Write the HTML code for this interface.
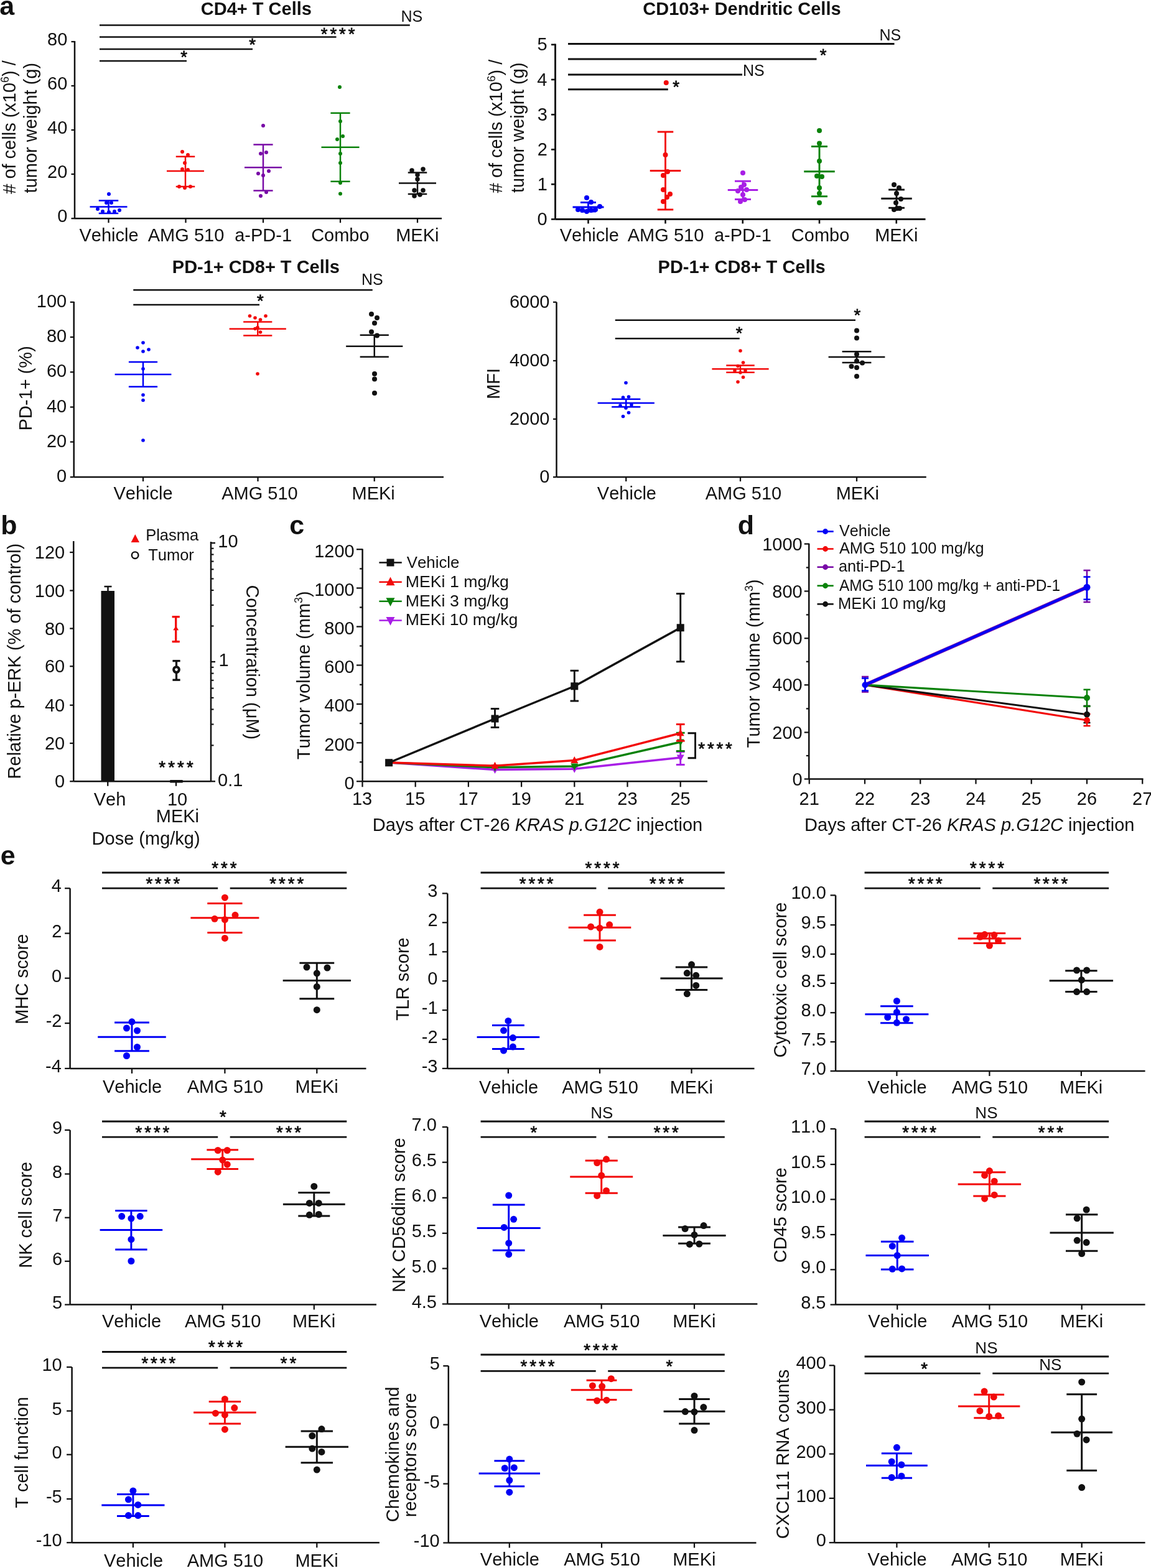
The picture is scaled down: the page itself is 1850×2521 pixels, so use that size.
<!DOCTYPE html>
<html><head><meta charset="utf-8"><title>Figure</title>
<style>
html,body{margin:0;padding:0;background:#fff;}
svg{display:block;}
svg text{font-family:'Liberation Sans', Arial, Helvetica, sans-serif;font-kerning:none;}
</style></head>
<body>
<svg width="1850" height="2521" viewBox="0 0 1850 2521">
<rect width="1850" height="2521" fill="#fff"/>
<text x="-0.76" y="24" font-size="43" font-weight="bold" fill="#111111">a</text>
<text x="1.17" y="858.5" font-size="43" font-weight="bold" fill="#111111">b</text>
<text x="465.32" y="858.9" font-size="43" font-weight="bold" fill="#111111">c</text>
<text x="1185.74" y="858.75" font-size="43" font-weight="bold" fill="#111111">d</text>
<text x="0.82" y="1389.5" font-size="43" font-weight="bold" fill="#111111">e</text>
<text x="322.81" y="24" font-size="29" font-weight="bold" fill="#111111">CD4+ T Cells</text>
<line x1="120" y1="66" x2="120" y2="351.25" stroke="#111111" stroke-width="2.5" stroke-linecap="butt"/>
<line x1="114.5" y1="67" x2="120" y2="67" stroke="#111111" stroke-width="2.25" stroke-linecap="butt"/>
<text x="76.08" y="73.2" font-size="29" fill="#111111">80</text>
<line x1="114.5" y1="138" x2="120" y2="138" stroke="#111111" stroke-width="2.25" stroke-linecap="butt"/>
<text x="76.08" y="144.2" font-size="29" fill="#111111">60</text>
<line x1="114.5" y1="209" x2="120" y2="209" stroke="#111111" stroke-width="2.25" stroke-linecap="butt"/>
<text x="76.08" y="215.2" font-size="29" fill="#111111">40</text>
<line x1="114.5" y1="280" x2="120" y2="280" stroke="#111111" stroke-width="2.25" stroke-linecap="butt"/>
<text x="76.08" y="286.2" font-size="29" fill="#111111">20</text>
<line x1="114.5" y1="351.25" x2="120" y2="351.25" stroke="#111111" stroke-width="2.25" stroke-linecap="butt"/>
<text x="92.2" y="357.45" font-size="29" fill="#111111">0</text>
<line x1="120" y1="351.25" x2="710" y2="351.25" stroke="#111111" stroke-width="2.5" stroke-linecap="butt"/>
<line x1="174.5" y1="351.25" x2="174.5" y2="358.25" stroke="#111111" stroke-width="2.25" stroke-linecap="butt"/>
<text x="127.52" y="387.8" font-size="29" fill="#111111">Vehicle</text>
<line x1="298.5" y1="351.25" x2="298.5" y2="358.25" stroke="#111111" stroke-width="2.25" stroke-linecap="butt"/>
<text x="237.79" y="387.8" font-size="29" fill="#111111">AMG 510</text>
<line x1="423" y1="351.25" x2="423" y2="358.25" stroke="#111111" stroke-width="2.25" stroke-linecap="butt"/>
<text x="377.16" y="387.8" font-size="29" fill="#111111">a-PD-1</text>
<line x1="547" y1="351.25" x2="547" y2="358.25" stroke="#111111" stroke-width="2.25" stroke-linecap="butt"/>
<text x="500.13" y="387.8" font-size="29" fill="#111111">Combo</text>
<line x1="671" y1="351.25" x2="671" y2="358.25" stroke="#111111" stroke-width="2.25" stroke-linecap="butt"/>
<text x="636.14" y="387.8" font-size="29" fill="#111111">MEKi</text>
<text transform="translate(25.2,204.4) rotate(-90)" x="-107.41" y="0" fill="#111111"><tspan font-size="29"># of cells (x10</tspan><tspan font-size="17.98" dy="-11.02">6</tspan><tspan font-size="29" dy="11.02">) /</tspan></text>
<text transform="translate(59,206.3) rotate(-90)" x="-104.08" y="0" fill="#111111"><tspan font-size="29">tumor weight (g)</tspan></text>
<line x1="160" y1="40.5" x2="658.75" y2="40.5" stroke="#111111" stroke-width="2.6" stroke-linecap="butt"/>
<text x="644.45" y="34.8" font-size="25" fill="#111111">NS</text>
<line x1="160" y1="59.5" x2="540.5" y2="59.5" stroke="#111111" stroke-width="2.6" stroke-linecap="butt"/>
<text x="515.86" y="63.82" font-size="27.5" letter-spacing="3.92" fill="#111111" stroke="#111111" stroke-width="0.8">****</text>
<line x1="160" y1="79" x2="406" y2="79" stroke="#111111" stroke-width="2.6" stroke-linecap="butt"/>
<text x="400.14" y="81.42" font-size="27.5" letter-spacing="3.2" fill="#111111" stroke="#111111" stroke-width="0.8">*</text>
<line x1="160" y1="98" x2="300" y2="98" stroke="#111111" stroke-width="2.6" stroke-linecap="butt"/>
<text x="290.14" y="101.32" font-size="27.5" letter-spacing="3.2" fill="#111111" stroke="#111111" stroke-width="0.8">*</text>
<line x1="144.5" y1="332.5" x2="204.5" y2="332.5" stroke="#0000f5" stroke-width="2.5" stroke-linecap="butt"/>
<line x1="174.5" y1="322.5" x2="174.5" y2="343" stroke="#0000f5" stroke-width="2.5" stroke-linecap="butt"/>
<line x1="158.75" y1="322.5" x2="190.25" y2="322.5" stroke="#0000f5" stroke-width="2.5" stroke-linecap="butt"/>
<line x1="158.75" y1="343" x2="190.25" y2="343" stroke="#0000f5" stroke-width="2.5" stroke-linecap="butt"/>
<circle cx="175" cy="312" r="3" fill="#0000f5"/>
<circle cx="171" cy="326" r="3" fill="#0000f5"/>
<circle cx="179" cy="326" r="3" fill="#0000f5"/>
<circle cx="157" cy="336" r="3" fill="#0000f5"/>
<circle cx="165" cy="340" r="3" fill="#0000f5"/>
<circle cx="175" cy="341" r="3" fill="#0000f5"/>
<circle cx="184" cy="340" r="3" fill="#0000f5"/>
<circle cx="192" cy="338" r="3" fill="#0000f5"/>
<line x1="268" y1="275" x2="328" y2="275" stroke="#f20a0a" stroke-width="2.5" stroke-linecap="butt"/>
<line x1="298" y1="251.75" x2="298" y2="300" stroke="#f20a0a" stroke-width="2.5" stroke-linecap="butt"/>
<line x1="282.75" y1="251.75" x2="313.25" y2="251.75" stroke="#f20a0a" stroke-width="2.5" stroke-linecap="butt"/>
<line x1="282.75" y1="300" x2="313.25" y2="300" stroke="#f20a0a" stroke-width="2.5" stroke-linecap="butt"/>
<circle cx="293" cy="244" r="3" fill="#f20a0a"/>
<circle cx="302" cy="249" r="3" fill="#f20a0a"/>
<circle cx="297" cy="262" r="3" fill="#f20a0a"/>
<circle cx="293" cy="272" r="3" fill="#f20a0a"/>
<circle cx="302" cy="273" r="3" fill="#f20a0a"/>
<circle cx="288" cy="300" r="3" fill="#f20a0a"/>
<circle cx="297" cy="302" r="3" fill="#f20a0a"/>
<circle cx="306" cy="300" r="3" fill="#f20a0a"/>
<line x1="393" y1="269.25" x2="453" y2="269.25" stroke="#780aa6" stroke-width="2.5" stroke-linecap="butt"/>
<line x1="423" y1="232.5" x2="423" y2="306.5" stroke="#780aa6" stroke-width="2.5" stroke-linecap="butt"/>
<line x1="407.4" y1="232.5" x2="438.6" y2="232.5" stroke="#780aa6" stroke-width="2.5" stroke-linecap="butt"/>
<line x1="407.4" y1="306.5" x2="438.6" y2="306.5" stroke="#780aa6" stroke-width="2.5" stroke-linecap="butt"/>
<circle cx="423" cy="202" r="3" fill="#780aa6"/>
<circle cx="419" cy="247" r="3" fill="#780aa6"/>
<circle cx="428" cy="245" r="3" fill="#780aa6"/>
<circle cx="415" cy="279" r="3" fill="#780aa6"/>
<circle cx="432" cy="275" r="3" fill="#780aa6"/>
<circle cx="423" cy="282" r="3" fill="#780aa6"/>
<circle cx="419" cy="315" r="3" fill="#780aa6"/>
<circle cx="428" cy="309" r="3" fill="#780aa6"/>
<line x1="516.5" y1="236.75" x2="577.5" y2="236.75" stroke="#0a820a" stroke-width="2.5" stroke-linecap="butt"/>
<line x1="547" y1="181.75" x2="547" y2="291.75" stroke="#0a820a" stroke-width="2.5" stroke-linecap="butt"/>
<line x1="531.4" y1="181.75" x2="562.6" y2="181.75" stroke="#0a820a" stroke-width="2.5" stroke-linecap="butt"/>
<line x1="531.4" y1="291.75" x2="562.6" y2="291.75" stroke="#0a820a" stroke-width="2.5" stroke-linecap="butt"/>
<circle cx="546" cy="140" r="3" fill="#0a820a"/>
<circle cx="547" cy="195" r="3" fill="#0a820a"/>
<circle cx="551" cy="219" r="3" fill="#0a820a"/>
<circle cx="542" cy="224" r="3" fill="#0a820a"/>
<circle cx="547" cy="247" r="3" fill="#0a820a"/>
<circle cx="547" cy="262" r="3" fill="#0a820a"/>
<circle cx="547" cy="294" r="3" fill="#0a820a"/>
<circle cx="547" cy="311.5" r="3" fill="#0a820a"/>
<line x1="641" y1="294.5" x2="701" y2="294.5" stroke="#111111" stroke-width="2.5" stroke-linecap="butt"/>
<line x1="671" y1="277.5" x2="671" y2="312" stroke="#111111" stroke-width="2.5" stroke-linecap="butt"/>
<line x1="655.75" y1="277.5" x2="686.25" y2="277.5" stroke="#111111" stroke-width="2.5" stroke-linecap="butt"/>
<line x1="655.75" y1="312" x2="686.25" y2="312" stroke="#111111" stroke-width="2.5" stroke-linecap="butt"/>
<circle cx="662" cy="274" r="3.75" fill="#111111"/>
<circle cx="680" cy="272" r="3.75" fill="#111111"/>
<circle cx="671" cy="281" r="3.75" fill="#111111"/>
<circle cx="671" cy="288" r="3.75" fill="#111111"/>
<circle cx="666" cy="306" r="3.75" fill="#111111"/>
<circle cx="680" cy="306" r="3.75" fill="#111111"/>
<circle cx="666" cy="315" r="3.75" fill="#111111"/>
<circle cx="675" cy="313" r="3.75" fill="#111111"/>
<text x="1033.31" y="24" font-size="29" font-weight="bold" fill="#111111">CD103+ Dendritic Cells</text>
<line x1="892.5" y1="70.5" x2="892.5" y2="352.5" stroke="#111111" stroke-width="2.9" stroke-linecap="butt"/>
<line x1="886" y1="71.75" x2="892.5" y2="71.75" stroke="#111111" stroke-width="2.61" stroke-linecap="butt"/>
<text x="863.59" y="81.25" font-size="29" fill="#111111">5</text>
<line x1="886" y1="128" x2="892.5" y2="128" stroke="#111111" stroke-width="2.61" stroke-linecap="butt"/>
<text x="863.22" y="137.5" font-size="29" fill="#111111">4</text>
<line x1="886" y1="184.25" x2="892.5" y2="184.25" stroke="#111111" stroke-width="2.61" stroke-linecap="butt"/>
<text x="863.65" y="193.75" font-size="29" fill="#111111">3</text>
<line x1="886" y1="240.4" x2="892.5" y2="240.4" stroke="#111111" stroke-width="2.61" stroke-linecap="butt"/>
<text x="863.83" y="249.9" font-size="29" fill="#111111">2</text>
<line x1="886" y1="296.25" x2="892.5" y2="296.25" stroke="#111111" stroke-width="2.61" stroke-linecap="butt"/>
<text x="863.79" y="305.75" font-size="29" fill="#111111">1</text>
<line x1="886" y1="352.5" x2="892.5" y2="352.5" stroke="#111111" stroke-width="2.61" stroke-linecap="butt"/>
<text x="863.5" y="362" font-size="29" fill="#111111">0</text>
<line x1="892.5" y1="352.5" x2="1487.5" y2="352.5" stroke="#111111" stroke-width="2.9" stroke-linecap="butt"/>
<line x1="945.5" y1="352.5" x2="945.5" y2="359.5" stroke="#111111" stroke-width="2.61" stroke-linecap="butt"/>
<text x="899.72" y="387.5" font-size="29" fill="#111111">Vehicle</text>
<line x1="1069.5" y1="352.5" x2="1069.5" y2="359.5" stroke="#111111" stroke-width="2.61" stroke-linecap="butt"/>
<text x="1008.79" y="387.5" font-size="29" fill="#111111">AMG 510</text>
<line x1="1193.75" y1="352.5" x2="1193.75" y2="359.5" stroke="#111111" stroke-width="2.61" stroke-linecap="butt"/>
<text x="1147.91" y="387.5" font-size="29" fill="#111111">a-PD-1</text>
<line x1="1317" y1="352.5" x2="1317" y2="359.5" stroke="#111111" stroke-width="2.61" stroke-linecap="butt"/>
<text x="1271.83" y="387.5" font-size="29" fill="#111111">Combo</text>
<line x1="1440.75" y1="352.5" x2="1440.75" y2="359.5" stroke="#111111" stroke-width="2.61" stroke-linecap="butt"/>
<text x="1406.19" y="387.5" font-size="29" fill="#111111">MEKi</text>
<text transform="translate(807.2,202.9) rotate(-90)" x="-107.41" y="0" fill="#111111"><tspan font-size="29"># of cells (x10</tspan><tspan font-size="17.98" dy="-11.02">6</tspan><tspan font-size="29" dy="11.02">) /</tspan></text>
<text transform="translate(842.3,205.9) rotate(-90)" x="-104.08" y="0" fill="#111111"><tspan font-size="29">tumor weight (g)</tspan></text>
<line x1="913" y1="70.5" x2="1437.5" y2="70.5" stroke="#111111" stroke-width="2.9" stroke-linecap="butt"/>
<text x="1413.45" y="65" font-size="25" fill="#111111">NS</text>
<line x1="913" y1="95" x2="1312.5" y2="95" stroke="#111111" stroke-width="2.9" stroke-linecap="butt"/>
<text x="1317.64" y="97.82" font-size="27.5" letter-spacing="3.2" fill="#111111" stroke="#111111" stroke-width="0.8">*</text>
<line x1="913" y1="120" x2="1193" y2="120" stroke="#111111" stroke-width="2.9" stroke-linecap="butt"/>
<text x="1193.95" y="122" font-size="25" fill="#111111">NS</text>
<line x1="913" y1="143.75" x2="1073.75" y2="143.75" stroke="#111111" stroke-width="2.9" stroke-linecap="butt"/>
<text x="1081.34" y="148.62" font-size="27.5" letter-spacing="3.2" fill="#111111" stroke="#111111" stroke-width="0.8">*</text>
<line x1="920.5" y1="333" x2="970.5" y2="333" stroke="#0000f5" stroke-width="2.9" stroke-linecap="butt"/>
<line x1="945.5" y1="325.5" x2="945.5" y2="340" stroke="#0000f5" stroke-width="2.9" stroke-linecap="butt"/>
<line x1="933" y1="325.5" x2="958" y2="325.5" stroke="#0000f5" stroke-width="2.9" stroke-linecap="butt"/>
<line x1="933" y1="340" x2="958" y2="340" stroke="#0000f5" stroke-width="2.9" stroke-linecap="butt"/>
<circle cx="943" cy="318" r="4" fill="#0000f5"/>
<circle cx="950" cy="325" r="4" fill="#0000f5"/>
<circle cx="964" cy="332" r="4" fill="#0000f5"/>
<circle cx="929" cy="337" r="4" fill="#0000f5"/>
<circle cx="936" cy="338" r="4" fill="#0000f5"/>
<circle cx="943" cy="340" r="4" fill="#0000f5"/>
<circle cx="950" cy="338" r="4" fill="#0000f5"/>
<circle cx="957" cy="337" r="4" fill="#0000f5"/>
<line x1="1044.75" y1="274.5" x2="1094.25" y2="274.5" stroke="#f20a0a" stroke-width="2.9" stroke-linecap="butt"/>
<line x1="1069.5" y1="212" x2="1069.5" y2="337" stroke="#f20a0a" stroke-width="2.9" stroke-linecap="butt"/>
<line x1="1056.75" y1="212" x2="1082.25" y2="212" stroke="#f20a0a" stroke-width="2.9" stroke-linecap="butt"/>
<line x1="1056.75" y1="337" x2="1082.25" y2="337" stroke="#f20a0a" stroke-width="2.9" stroke-linecap="butt"/>
<circle cx="1070.75" cy="133" r="4" fill="#f20a0a"/>
<circle cx="1069.5" cy="249" r="4" fill="#f20a0a"/>
<circle cx="1073" cy="276" r="4" fill="#f20a0a"/>
<circle cx="1066" cy="282" r="4" fill="#f20a0a"/>
<circle cx="1066" cy="305" r="4" fill="#f20a0a"/>
<circle cx="1077" cy="312" r="4" fill="#f20a0a"/>
<circle cx="1072" cy="317" r="4" fill="#f20a0a"/>
<circle cx="1066" cy="324" r="4" fill="#f20a0a"/>
<line x1="1169.75" y1="305.5" x2="1218.25" y2="305.5" stroke="#a81ee6" stroke-width="2.9" stroke-linecap="butt"/>
<line x1="1194" y1="291.25" x2="1194" y2="320.5" stroke="#a81ee6" stroke-width="2.9" stroke-linecap="butt"/>
<line x1="1181" y1="291.25" x2="1207" y2="291.25" stroke="#a81ee6" stroke-width="2.9" stroke-linecap="butt"/>
<line x1="1181" y1="320.5" x2="1207" y2="320.5" stroke="#a81ee6" stroke-width="2.9" stroke-linecap="butt"/>
<circle cx="1194" cy="278" r="4" fill="#a81ee6"/>
<circle cx="1196" cy="297" r="4" fill="#a81ee6"/>
<circle cx="1191" cy="301" r="4" fill="#a81ee6"/>
<circle cx="1186" cy="307" r="4" fill="#a81ee6"/>
<circle cx="1200" cy="305" r="4" fill="#a81ee6"/>
<circle cx="1194" cy="313" r="4" fill="#a81ee6"/>
<circle cx="1197" cy="321" r="4" fill="#a81ee6"/>
<circle cx="1190" cy="324" r="4" fill="#a81ee6"/>
<line x1="1292.25" y1="275.75" x2="1341.75" y2="275.75" stroke="#0a820a" stroke-width="2.9" stroke-linecap="butt"/>
<line x1="1317" y1="235.5" x2="1317" y2="315.75" stroke="#0a820a" stroke-width="2.9" stroke-linecap="butt"/>
<line x1="1304" y1="235.5" x2="1330" y2="235.5" stroke="#0a820a" stroke-width="2.9" stroke-linecap="butt"/>
<line x1="1304" y1="315.75" x2="1330" y2="315.75" stroke="#0a820a" stroke-width="2.9" stroke-linecap="butt"/>
<circle cx="1317" cy="210" r="4" fill="#0a820a"/>
<circle cx="1317" cy="230.5" r="4" fill="#0a820a"/>
<circle cx="1317" cy="259" r="4" fill="#0a820a"/>
<circle cx="1313" cy="283" r="4" fill="#0a820a"/>
<circle cx="1321" cy="284" r="4" fill="#0a820a"/>
<circle cx="1317" cy="302" r="4" fill="#0a820a"/>
<circle cx="1317" cy="311" r="4" fill="#0a820a"/>
<circle cx="1317" cy="326" r="4" fill="#0a820a"/>
<line x1="1416.25" y1="319.25" x2="1465.75" y2="319.25" stroke="#111111" stroke-width="2.9" stroke-linecap="butt"/>
<line x1="1441" y1="305" x2="1441" y2="334.25" stroke="#111111" stroke-width="2.9" stroke-linecap="butt"/>
<line x1="1428.1" y1="305" x2="1453.9" y2="305" stroke="#111111" stroke-width="2.9" stroke-linecap="butt"/>
<line x1="1428.1" y1="334.25" x2="1453.9" y2="334.25" stroke="#111111" stroke-width="2.9" stroke-linecap="butt"/>
<circle cx="1437" cy="297" r="4" fill="#111111"/>
<circle cx="1445" cy="302" r="4" fill="#111111"/>
<circle cx="1441" cy="311" r="4" fill="#111111"/>
<circle cx="1448" cy="320" r="4" fill="#111111"/>
<circle cx="1440" cy="326" r="4" fill="#111111"/>
<circle cx="1442" cy="335" r="4" fill="#111111"/>
<circle cx="1437" cy="337" r="4" fill="#111111"/>
<circle cx="1446" cy="335" r="4" fill="#111111"/>
<text x="276.81" y="439.25" font-size="29" font-weight="bold" fill="#111111">PD-1+ CD8+ T Cells</text>
<line x1="118.75" y1="485" x2="118.75" y2="767" stroke="#111111" stroke-width="2.5" stroke-linecap="butt"/>
<line x1="112.75" y1="485.75" x2="118.75" y2="485.75" stroke="#111111" stroke-width="2.25" stroke-linecap="butt"/>
<text x="58.75" y="493.75" font-size="29" fill="#111111">100</text>
<line x1="112.75" y1="542" x2="118.75" y2="542" stroke="#111111" stroke-width="2.25" stroke-linecap="butt"/>
<text x="74.88" y="550" font-size="29" fill="#111111">80</text>
<line x1="112.75" y1="598.25" x2="118.75" y2="598.25" stroke="#111111" stroke-width="2.25" stroke-linecap="butt"/>
<text x="74.88" y="606.25" font-size="29" fill="#111111">60</text>
<line x1="112.75" y1="654.5" x2="118.75" y2="654.5" stroke="#111111" stroke-width="2.25" stroke-linecap="butt"/>
<text x="74.88" y="662.5" font-size="29" fill="#111111">40</text>
<line x1="112.75" y1="710.5" x2="118.75" y2="710.5" stroke="#111111" stroke-width="2.25" stroke-linecap="butt"/>
<text x="74.88" y="718.5" font-size="29" fill="#111111">20</text>
<line x1="112.75" y1="767" x2="118.75" y2="767" stroke="#111111" stroke-width="2.25" stroke-linecap="butt"/>
<text x="91" y="775" font-size="29" fill="#111111">0</text>
<line x1="118.75" y1="767" x2="713" y2="767" stroke="#111111" stroke-width="2.5" stroke-linecap="butt"/>
<line x1="230" y1="767" x2="230" y2="774" stroke="#111111" stroke-width="2.25" stroke-linecap="butt"/>
<text x="182.52" y="803.25" font-size="29" fill="#111111">Vehicle</text>
<line x1="414.5" y1="767" x2="414.5" y2="774" stroke="#111111" stroke-width="2.25" stroke-linecap="butt"/>
<text x="356.19" y="803.25" font-size="29" fill="#111111">AMG 510</text>
<line x1="601.75" y1="767" x2="601.75" y2="774" stroke="#111111" stroke-width="2.25" stroke-linecap="butt"/>
<text x="565.49" y="803.25" font-size="29" fill="#111111">MEKi</text>
<text transform="translate(51,624.01) rotate(-90)" x="-68.37" y="0" fill="#111111"><tspan font-size="29">PD-1+ (%)</tspan></text>
<line x1="214.25" y1="466.25" x2="598.75" y2="466.25" stroke="#111111" stroke-width="2.5" stroke-linecap="butt"/>
<text x="580.95" y="458" font-size="25" fill="#111111">NS</text>
<line x1="214.25" y1="490" x2="417" y2="490" stroke="#111111" stroke-width="2.5" stroke-linecap="butt"/>
<text x="413.04" y="493.12" font-size="27.5" letter-spacing="3.2" fill="#111111" stroke="#111111" stroke-width="0.8">*</text>
<line x1="184.6" y1="602" x2="275.4" y2="602" stroke="#0000f5" stroke-width="2.5" stroke-linecap="butt"/>
<line x1="230" y1="582" x2="230" y2="621.75" stroke="#0000f5" stroke-width="2.5" stroke-linecap="butt"/>
<line x1="206.9" y1="582" x2="253.1" y2="582" stroke="#0000f5" stroke-width="2.5" stroke-linecap="butt"/>
<line x1="206.9" y1="621.75" x2="253.1" y2="621.75" stroke="#0000f5" stroke-width="2.5" stroke-linecap="butt"/>
<circle cx="230" cy="551" r="2.8" fill="#0000f5"/>
<circle cx="221" cy="559" r="2.8" fill="#0000f5"/>
<circle cx="239" cy="562" r="2.8" fill="#0000f5"/>
<circle cx="230" cy="565" r="2.8" fill="#0000f5"/>
<circle cx="230" cy="593" r="2.8" fill="#0000f5"/>
<circle cx="230" cy="635" r="2.8" fill="#0000f5"/>
<circle cx="230" cy="643.5" r="2.8" fill="#0000f5"/>
<circle cx="230" cy="708" r="2.8" fill="#0000f5"/>
<line x1="368.65" y1="528.75" x2="459.85" y2="528.75" stroke="#f20a0a" stroke-width="2.5" stroke-linecap="butt"/>
<line x1="414.25" y1="517.5" x2="414.25" y2="539.5" stroke="#f20a0a" stroke-width="2.5" stroke-linecap="butt"/>
<line x1="391.15" y1="517.5" x2="437.35" y2="517.5" stroke="#f20a0a" stroke-width="2.5" stroke-linecap="butt"/>
<line x1="391.15" y1="539.5" x2="437.35" y2="539.5" stroke="#f20a0a" stroke-width="2.5" stroke-linecap="butt"/>
<circle cx="401.5" cy="508" r="2.8" fill="#f20a0a"/>
<circle cx="410" cy="511" r="2.8" fill="#f20a0a"/>
<circle cx="418.5" cy="514" r="2.8" fill="#f20a0a"/>
<circle cx="427" cy="508" r="2.8" fill="#f20a0a"/>
<circle cx="414" cy="526.5" r="2.8" fill="#f20a0a"/>
<circle cx="410" cy="528.5" r="2.8" fill="#f20a0a"/>
<circle cx="418.5" cy="534" r="2.8" fill="#f20a0a"/>
<circle cx="414" cy="601" r="2.8" fill="#f20a0a"/>
<line x1="556.15" y1="556.75" x2="647.35" y2="556.75" stroke="#111111" stroke-width="2.5" stroke-linecap="butt"/>
<line x1="601.75" y1="538.75" x2="601.75" y2="573.75" stroke="#111111" stroke-width="2.5" stroke-linecap="butt"/>
<line x1="578.65" y1="538.75" x2="624.85" y2="538.75" stroke="#111111" stroke-width="2.5" stroke-linecap="butt"/>
<line x1="578.65" y1="573.75" x2="624.85" y2="573.75" stroke="#111111" stroke-width="2.5" stroke-linecap="butt"/>
<circle cx="597" cy="505" r="4" fill="#111111"/>
<circle cx="606" cy="511" r="4" fill="#111111"/>
<circle cx="602" cy="519.5" r="4" fill="#111111"/>
<circle cx="597" cy="533.5" r="4" fill="#111111"/>
<circle cx="606" cy="539.5" r="4" fill="#111111"/>
<circle cx="602" cy="601" r="4" fill="#111111"/>
<circle cx="602" cy="609.5" r="4" fill="#111111"/>
<circle cx="602" cy="632" r="4" fill="#111111"/>
<text x="1057.56" y="439.25" font-size="29" font-weight="bold" fill="#111111">PD-1+ CD8+ T Cells</text>
<line x1="894.5" y1="485.75" x2="894.5" y2="767" stroke="#111111" stroke-width="2.5" stroke-linecap="butt"/>
<line x1="889" y1="485.75" x2="894.5" y2="485.75" stroke="#111111" stroke-width="2.25" stroke-linecap="butt"/>
<text x="818.92" y="494.75" font-size="29" fill="#111111">6000</text>
<line x1="889" y1="580" x2="894.5" y2="580" stroke="#111111" stroke-width="2.25" stroke-linecap="butt"/>
<text x="818.92" y="589" font-size="29" fill="#111111">4000</text>
<line x1="889" y1="673.75" x2="894.5" y2="673.75" stroke="#111111" stroke-width="2.25" stroke-linecap="butt"/>
<text x="818.92" y="682.75" font-size="29" fill="#111111">2000</text>
<line x1="889" y1="767" x2="894.5" y2="767" stroke="#111111" stroke-width="2.25" stroke-linecap="butt"/>
<text x="867.3" y="776" font-size="29" fill="#111111">0</text>
<line x1="894.5" y1="767" x2="1488.75" y2="767" stroke="#111111" stroke-width="2.5" stroke-linecap="butt"/>
<line x1="1006.25" y1="767" x2="1006.25" y2="774" stroke="#111111" stroke-width="2.25" stroke-linecap="butt"/>
<text x="959.87" y="803" font-size="29" fill="#111111">Vehicle</text>
<line x1="1190" y1="767" x2="1190" y2="774" stroke="#111111" stroke-width="2.25" stroke-linecap="butt"/>
<text x="1133.69" y="803" font-size="29" fill="#111111">AMG 510</text>
<line x1="1377" y1="767" x2="1377" y2="774" stroke="#111111" stroke-width="2.25" stroke-linecap="butt"/>
<text x="1343.64" y="803" font-size="29" fill="#111111">MEKi</text>
<text transform="translate(802.5,617) rotate(-90)" x="-24.82" y="0" fill="#111111"><tspan font-size="29">MFI</tspan></text>
<line x1="988.75" y1="514.75" x2="1375" y2="514.75" stroke="#111111" stroke-width="2.5" stroke-linecap="butt"/>
<text x="1372.54" y="515.82" font-size="27.5" letter-spacing="3.2" fill="#111111" stroke="#111111" stroke-width="0.8">*</text>
<line x1="988.75" y1="544.25" x2="1188.75" y2="544.25" stroke="#111111" stroke-width="2.5" stroke-linecap="butt"/>
<text x="1182.74" y="544.92" font-size="27.5" letter-spacing="3.2" fill="#111111" stroke="#111111" stroke-width="0.8">*</text>
<line x1="960.65" y1="648" x2="1051.85" y2="648" stroke="#0000f5" stroke-width="2.5" stroke-linecap="butt"/>
<line x1="1006.25" y1="641.75" x2="1006.25" y2="654.25" stroke="#0000f5" stroke-width="2.5" stroke-linecap="butt"/>
<line x1="983.15" y1="641.75" x2="1029.35" y2="641.75" stroke="#0000f5" stroke-width="2.5" stroke-linecap="butt"/>
<line x1="983.15" y1="654.25" x2="1029.35" y2="654.25" stroke="#0000f5" stroke-width="2.5" stroke-linecap="butt"/>
<circle cx="1006" cy="615.5" r="2.8" fill="#0000f5"/>
<circle cx="1001.5" cy="639" r="2.8" fill="#0000f5"/>
<circle cx="1010.5" cy="638" r="2.8" fill="#0000f5"/>
<circle cx="997" cy="652" r="2.8" fill="#0000f5"/>
<circle cx="1006" cy="656" r="2.8" fill="#0000f5"/>
<circle cx="1015" cy="651" r="2.8" fill="#0000f5"/>
<circle cx="1010.5" cy="663.5" r="2.8" fill="#0000f5"/>
<circle cx="1001.5" cy="669.5" r="2.8" fill="#0000f5"/>
<line x1="1144.4" y1="593.25" x2="1235.6" y2="593.25" stroke="#f20a0a" stroke-width="2.5" stroke-linecap="butt"/>
<line x1="1190" y1="587.5" x2="1190" y2="598.75" stroke="#f20a0a" stroke-width="2.5" stroke-linecap="butt"/>
<line x1="1167.25" y1="587.5" x2="1212.75" y2="587.5" stroke="#f20a0a" stroke-width="2.5" stroke-linecap="butt"/>
<line x1="1167.25" y1="598.75" x2="1212.75" y2="598.75" stroke="#f20a0a" stroke-width="2.5" stroke-linecap="butt"/>
<circle cx="1190" cy="564" r="2.8" fill="#f20a0a"/>
<circle cx="1194.5" cy="583" r="2.8" fill="#f20a0a"/>
<circle cx="1186" cy="588.5" r="2.8" fill="#f20a0a"/>
<circle cx="1181" cy="596" r="2.8" fill="#f20a0a"/>
<circle cx="1190" cy="599" r="2.8" fill="#f20a0a"/>
<circle cx="1198" cy="596" r="2.8" fill="#f20a0a"/>
<circle cx="1194.5" cy="606.5" r="2.8" fill="#f20a0a"/>
<circle cx="1186" cy="614" r="2.8" fill="#f20a0a"/>
<line x1="1331.6" y1="574" x2="1422.4" y2="574" stroke="#111111" stroke-width="2.5" stroke-linecap="butt"/>
<line x1="1377" y1="565.25" x2="1377" y2="583" stroke="#111111" stroke-width="2.5" stroke-linecap="butt"/>
<line x1="1353.6" y1="565.25" x2="1400.4" y2="565.25" stroke="#111111" stroke-width="2.5" stroke-linecap="butt"/>
<line x1="1353.6" y1="583" x2="1400.4" y2="583" stroke="#111111" stroke-width="2.5" stroke-linecap="butt"/>
<circle cx="1377" cy="531.5" r="4" fill="#111111"/>
<circle cx="1377" cy="543.5" r="4" fill="#111111"/>
<circle cx="1377" cy="569.5" r="4" fill="#111111"/>
<circle cx="1377" cy="580.5" r="4" fill="#111111"/>
<circle cx="1386" cy="583.5" r="4" fill="#111111"/>
<circle cx="1368.5" cy="589" r="4" fill="#111111"/>
<circle cx="1377" cy="591" r="4" fill="#111111"/>
<circle cx="1377" cy="605" r="4" fill="#111111"/>
<line x1="118.25" y1="870" x2="118.25" y2="1256.25" stroke="#111111" stroke-width="2.5" stroke-linecap="butt"/>
<line x1="112.25" y1="888" x2="118.25" y2="888" stroke="#111111" stroke-width="2.25" stroke-linecap="butt"/>
<text x="55.75" y="898" font-size="29" fill="#111111">120</text>
<line x1="112.25" y1="949.5" x2="118.25" y2="949.5" stroke="#111111" stroke-width="2.25" stroke-linecap="butt"/>
<text x="55.75" y="959.5" font-size="29" fill="#111111">100</text>
<line x1="112.25" y1="1010.5" x2="118.25" y2="1010.5" stroke="#111111" stroke-width="2.25" stroke-linecap="butt"/>
<text x="71.88" y="1020.5" font-size="29" fill="#111111">80</text>
<line x1="112.25" y1="1071.25" x2="118.25" y2="1071.25" stroke="#111111" stroke-width="2.25" stroke-linecap="butt"/>
<text x="71.88" y="1081.25" font-size="29" fill="#111111">60</text>
<line x1="112.25" y1="1133.75" x2="118.25" y2="1133.75" stroke="#111111" stroke-width="2.25" stroke-linecap="butt"/>
<text x="71.88" y="1143.75" font-size="29" fill="#111111">40</text>
<line x1="112.25" y1="1195" x2="118.25" y2="1195" stroke="#111111" stroke-width="2.25" stroke-linecap="butt"/>
<text x="71.88" y="1205" font-size="29" fill="#111111">20</text>
<line x1="112.25" y1="1256.25" x2="118.25" y2="1256.25" stroke="#111111" stroke-width="2.25" stroke-linecap="butt"/>
<text x="88" y="1266.25" font-size="29" fill="#111111">0</text>
<line x1="118.25" y1="1256.25" x2="339" y2="1256.25" stroke="#111111" stroke-width="2.5" stroke-linecap="butt"/>
<line x1="173.25" y1="1256.25" x2="173.25" y2="1263.75" stroke="#111111" stroke-width="2.3" stroke-linecap="butt"/>
<line x1="283" y1="1256.25" x2="283" y2="1263.75" stroke="#111111" stroke-width="2.3" stroke-linecap="butt"/>
<text x="150.68" y="1294.5" font-size="29" fill="#111111">Veh</text>
<text x="268.93" y="1294.5" font-size="29" fill="#111111">10</text>
<text x="250.74" y="1322" font-size="29" fill="#111111">MEKi</text>
<text x="147.62" y="1357.5" font-size="29" fill="#111111">Dose (mg/kg)</text>
<line x1="339" y1="871" x2="339" y2="1256.25" stroke="#111111" stroke-width="2.5" stroke-linecap="butt"/>
<line x1="339" y1="873" x2="346" y2="873" stroke="#111111" stroke-width="2.3" stroke-linecap="butt"/>
<line x1="339" y1="1064" x2="346" y2="1064" stroke="#111111" stroke-width="2.3" stroke-linecap="butt"/>
<line x1="339" y1="1256.25" x2="346" y2="1256.25" stroke="#111111" stroke-width="2.3" stroke-linecap="butt"/>
<line x1="339" y1="1006.5" x2="343.5" y2="1006.5" stroke="#111111" stroke-width="2.1" stroke-linecap="butt"/>
<line x1="339" y1="1198.38" x2="343.5" y2="1198.38" stroke="#111111" stroke-width="2.1" stroke-linecap="butt"/>
<line x1="339" y1="972.87" x2="343.5" y2="972.87" stroke="#111111" stroke-width="2.1" stroke-linecap="butt"/>
<line x1="339" y1="1164.52" x2="343.5" y2="1164.52" stroke="#111111" stroke-width="2.1" stroke-linecap="butt"/>
<line x1="339" y1="949.01" x2="343.5" y2="949.01" stroke="#111111" stroke-width="2.1" stroke-linecap="butt"/>
<line x1="339" y1="1140.5" x2="343.5" y2="1140.5" stroke="#111111" stroke-width="2.1" stroke-linecap="butt"/>
<line x1="339" y1="930.5" x2="343.5" y2="930.5" stroke="#111111" stroke-width="2.1" stroke-linecap="butt"/>
<line x1="339" y1="1121.87" x2="343.5" y2="1121.87" stroke="#111111" stroke-width="2.1" stroke-linecap="butt"/>
<line x1="339" y1="915.37" x2="343.5" y2="915.37" stroke="#111111" stroke-width="2.1" stroke-linecap="butt"/>
<line x1="339" y1="1106.65" x2="343.5" y2="1106.65" stroke="#111111" stroke-width="2.1" stroke-linecap="butt"/>
<line x1="339" y1="902.59" x2="343.5" y2="902.59" stroke="#111111" stroke-width="2.1" stroke-linecap="butt"/>
<line x1="339" y1="1093.78" x2="343.5" y2="1093.78" stroke="#111111" stroke-width="2.1" stroke-linecap="butt"/>
<line x1="339" y1="891.51" x2="343.5" y2="891.51" stroke="#111111" stroke-width="2.1" stroke-linecap="butt"/>
<line x1="339" y1="1082.63" x2="343.5" y2="1082.63" stroke="#111111" stroke-width="2.1" stroke-linecap="butt"/>
<line x1="339" y1="881.74" x2="343.5" y2="881.74" stroke="#111111" stroke-width="2.1" stroke-linecap="butt"/>
<line x1="339" y1="1072.8" x2="343.5" y2="1072.8" stroke="#111111" stroke-width="2.1" stroke-linecap="butt"/>
<text x="350.29" y="880" font-size="29" fill="#111111">10</text>
<text x="351.54" y="1071.25" font-size="29" fill="#111111">1</text>
<text x="350.12" y="1263.75" font-size="29" fill="#111111">0.1</text>
<text transform="translate(33,1062.75) rotate(-90)" x="-189.66" y="0" fill="#111111"><tspan font-size="29">Relative p-ERK (% of control)</tspan></text>
<text transform="translate(395.5,1064.6) rotate(90)" x="-124.23" y="0" fill="#111111"><tspan font-size="29">Concentration (</tspan><tspan font-size="29">μ</tspan><tspan font-size="29">M)</tspan></text>
<rect x="162.5" y="950" width="21.5" height="306.25" fill="#111111"/>
<line x1="173.5" y1="943" x2="173.5" y2="950" stroke="#111111" stroke-width="2.5" stroke-linecap="butt"/>
<line x1="167.5" y1="943" x2="179.5" y2="943" stroke="#111111" stroke-width="2.5" stroke-linecap="butt"/>
<rect x="273.3" y="1254" width="20.4" height="4.5" fill="#111111"/>
<polygon points="217.3,858.9 210.6,871.9 224,871.9" fill="#f20a0a"/>
<text x="234.16" y="869.25" font-size="25.5" fill="#111111">Plasma</text>
<circle cx="217.1" cy="892.7" r="5.3" fill="none" stroke="#111111" stroke-width="2.4"/>
<text x="238.18" y="900.5" font-size="25.5" fill="#111111">Tumor</text>
<line x1="282.7" y1="991.7" x2="282.7" y2="1031.6" stroke="#f20a0a" stroke-width="3.3" stroke-linecap="butt"/>
<line x1="276.6" y1="991.7" x2="288.8" y2="991.7" stroke="#f20a0a" stroke-width="3.3" stroke-linecap="butt"/>
<line x1="276.6" y1="1031.6" x2="288.8" y2="1031.6" stroke="#f20a0a" stroke-width="3.3" stroke-linecap="butt"/>
<polygon points="282.7,1006.29 278.2,1013.31 287.2,1013.31" fill="#f20a0a"/>
<line x1="283.5" y1="1062.6" x2="283.5" y2="1093.2" stroke="#111111" stroke-width="3.3" stroke-linecap="butt"/>
<line x1="277.4" y1="1062.6" x2="289.6" y2="1062.6" stroke="#111111" stroke-width="3.3" stroke-linecap="butt"/>
<line x1="277.4" y1="1093.2" x2="289.6" y2="1093.2" stroke="#111111" stroke-width="3.3" stroke-linecap="butt"/>
<circle cx="283.5" cy="1076.6" r="4.35" fill="#fff" stroke="#111111" stroke-width="4.1"/>
<text x="255.26" y="1242.62" font-size="27.5" letter-spacing="4.19" fill="#111111" stroke="#111111" stroke-width="0.8">****</text>
<line x1="582.6" y1="882.5" x2="582.6" y2="1256.25" stroke="#111111" stroke-width="2.5" stroke-linecap="butt"/>
<line x1="573" y1="883.25" x2="582.6" y2="883.25" stroke="#111111" stroke-width="2.25" stroke-linecap="butt"/>
<text x="505.22" y="895.55" font-size="29" fill="#111111">1200</text>
<line x1="573" y1="945.5" x2="582.6" y2="945.5" stroke="#111111" stroke-width="2.25" stroke-linecap="butt"/>
<text x="505.22" y="957.8" font-size="29" fill="#111111">1000</text>
<line x1="573" y1="1007.5" x2="582.6" y2="1007.5" stroke="#111111" stroke-width="2.25" stroke-linecap="butt"/>
<text x="521.35" y="1019.8" font-size="29" fill="#111111">800</text>
<line x1="573" y1="1069.5" x2="582.6" y2="1069.5" stroke="#111111" stroke-width="2.25" stroke-linecap="butt"/>
<text x="521.35" y="1081.8" font-size="29" fill="#111111">600</text>
<line x1="573" y1="1132" x2="582.6" y2="1132" stroke="#111111" stroke-width="2.25" stroke-linecap="butt"/>
<text x="521.35" y="1144.3" font-size="29" fill="#111111">400</text>
<line x1="573" y1="1194.25" x2="582.6" y2="1194.25" stroke="#111111" stroke-width="2.25" stroke-linecap="butt"/>
<text x="521.35" y="1206.55" font-size="29" fill="#111111">200</text>
<line x1="573" y1="1256.25" x2="582.6" y2="1256.25" stroke="#111111" stroke-width="2.25" stroke-linecap="butt"/>
<text x="553.6" y="1268.55" font-size="29" fill="#111111">0</text>
<line x1="578.1" y1="914.4" x2="582.6" y2="914.4" stroke="#111111" stroke-width="2.25" stroke-linecap="butt"/>
<line x1="578.1" y1="976.5" x2="582.6" y2="976.5" stroke="#111111" stroke-width="2.25" stroke-linecap="butt"/>
<line x1="578.1" y1="1038.5" x2="582.6" y2="1038.5" stroke="#111111" stroke-width="2.25" stroke-linecap="butt"/>
<line x1="578.1" y1="1100.8" x2="582.6" y2="1100.8" stroke="#111111" stroke-width="2.25" stroke-linecap="butt"/>
<line x1="578.1" y1="1163.1" x2="582.6" y2="1163.1" stroke="#111111" stroke-width="2.25" stroke-linecap="butt"/>
<line x1="578.1" y1="1225.2" x2="582.6" y2="1225.2" stroke="#111111" stroke-width="2.25" stroke-linecap="butt"/>
<line x1="582.6" y1="1256.25" x2="1137" y2="1256.25" stroke="#111111" stroke-width="2.5" stroke-linecap="butt"/>
<line x1="582.5" y1="1256.25" x2="582.5" y2="1265.25" stroke="#111111" stroke-width="2.25" stroke-linecap="butt"/>
<text x="565.9" y="1293.75" font-size="29" fill="#111111">13</text>
<line x1="667.7" y1="1256.25" x2="667.7" y2="1265.25" stroke="#111111" stroke-width="2.25" stroke-linecap="butt"/>
<text x="651.08" y="1293.75" font-size="29" fill="#111111">15</text>
<line x1="752.9" y1="1256.25" x2="752.9" y2="1265.25" stroke="#111111" stroke-width="2.25" stroke-linecap="butt"/>
<text x="736.4" y="1293.75" font-size="29" fill="#111111">17</text>
<line x1="838.1" y1="1256.25" x2="838.1" y2="1265.25" stroke="#111111" stroke-width="2.25" stroke-linecap="butt"/>
<text x="821.55" y="1293.75" font-size="29" fill="#111111">19</text>
<line x1="923.3" y1="1256.25" x2="923.3" y2="1265.25" stroke="#111111" stroke-width="2.25" stroke-linecap="butt"/>
<text x="907.15" y="1293.75" font-size="29" fill="#111111">21</text>
<line x1="1008.5" y1="1256.25" x2="1008.5" y2="1265.25" stroke="#111111" stroke-width="2.25" stroke-linecap="butt"/>
<text x="992.28" y="1293.75" font-size="29" fill="#111111">23</text>
<line x1="1093.7" y1="1256.25" x2="1093.7" y2="1265.25" stroke="#111111" stroke-width="2.25" stroke-linecap="butt"/>
<text x="1077.45" y="1293.75" font-size="29" fill="#111111">25</text>
<text x="598.87" y="1335.5" fill="#111111"><tspan font-size="29">Days after CT-26 </tspan><tspan font-size="29" font-style="italic">KRAS p.G12C</tspan><tspan font-size="29"> injection</tspan></text>
<text transform="translate(497.5,1086.3) rotate(-90)" x="-134.93" y="0" fill="#111111"><tspan font-size="29">Tumor volume (mm</tspan><tspan font-size="17.98" dy="-11.02">3</tspan><tspan font-size="29" dy="11.02">)</tspan></text>
<line x1="609.4" y1="904.5" x2="645.8" y2="904.5" stroke="#111111" stroke-width="2.6" stroke-linecap="butt"/>
<rect x="621.5" y="898.5" width="12" height="12" fill="#111111"/>
<text x="653.79" y="912.9" font-size="25.5" fill="#111111" textLength="84.66" lengthAdjust="spacingAndGlyphs">Vehicle</text>
<line x1="609.4" y1="935.75" x2="645.8" y2="935.75" stroke="#f20a0a" stroke-width="2.6" stroke-linecap="butt"/>
<polygon points="627.5,927.6 620.5,941.18 634.5,941.18" fill="#f20a0a"/>
<text x="651.71" y="943.75" font-size="25.5" fill="#111111" textLength="166.26" lengthAdjust="spacingAndGlyphs">MEKi 1 mg/kg</text>
<line x1="609.4" y1="966.75" x2="645.8" y2="966.75" stroke="#0a820a" stroke-width="2.6" stroke-linecap="butt"/>
<polygon points="627.5,974.9 620.5,961.32 634.5,961.32" fill="#0a820a"/>
<text x="651.71" y="974.5" font-size="25.5" fill="#111111" textLength="166.26" lengthAdjust="spacingAndGlyphs">MEKi 3 mg/kg</text>
<line x1="609.4" y1="997.5" x2="645.8" y2="997.5" stroke="#a81ee6" stroke-width="2.6" stroke-linecap="butt"/>
<polygon points="627.5,1005.65 620.5,992.07 634.5,992.07" fill="#a81ee6"/>
<text x="651.71" y="1005" font-size="25.5" fill="#111111" textLength="180.6" lengthAdjust="spacingAndGlyphs">MEKi 10 mg/kg</text>
<polyline points="625.1,1226 795.5,1237.5 923.3,1236.25 1093.7,1218" fill="none" stroke="#a81ee6" stroke-width="3.5" stroke-linejoin="round"/>
<line x1="1093.7" y1="1208.75" x2="1093.7" y2="1229.5" stroke="#a81ee6" stroke-width="2.9" stroke-linecap="butt"/>
<line x1="1086.8" y1="1208.75" x2="1100.6" y2="1208.75" stroke="#a81ee6" stroke-width="2.9" stroke-linecap="butt"/>
<line x1="1086.8" y1="1229.5" x2="1100.6" y2="1229.5" stroke="#a81ee6" stroke-width="2.9" stroke-linecap="butt"/>
<polygon points="795.5,1244.12 789.5,1233.08 801.5,1233.08" fill="#a81ee6"/>
<polygon points="923.3,1242.87 917.3,1231.83 929.3,1231.83" fill="#a81ee6"/>
<polygon points="1093.7,1224.62 1087.7,1213.58 1099.7,1213.58" fill="#a81ee6"/>
<polyline points="625.1,1226 795.5,1233.75 923.3,1232 1093.7,1193" fill="none" stroke="#0a820a" stroke-width="3.5" stroke-linejoin="round"/>
<line x1="1093.7" y1="1178.25" x2="1093.7" y2="1207.5" stroke="#0a820a" stroke-width="2.9" stroke-linecap="butt"/>
<line x1="1086.8" y1="1178.25" x2="1100.6" y2="1178.25" stroke="#0a820a" stroke-width="2.9" stroke-linecap="butt"/>
<line x1="1086.8" y1="1207.5" x2="1100.6" y2="1207.5" stroke="#0a820a" stroke-width="2.9" stroke-linecap="butt"/>
<polygon points="795.5,1240.37 789.5,1229.33 801.5,1229.33" fill="#0a820a"/>
<polygon points="923.3,1238.62 917.3,1227.58 929.3,1227.58" fill="#0a820a"/>
<polygon points="1093.7,1199.62 1087.7,1188.58 1099.7,1188.58" fill="#0a820a"/>
<polyline points="625.1,1226 795.5,1231.25 923.3,1222.5 1093.7,1178.75" fill="none" stroke="#f20a0a" stroke-width="3.5" stroke-linejoin="round"/>
<line x1="1093.7" y1="1164.5" x2="1093.7" y2="1191.25" stroke="#f20a0a" stroke-width="2.9" stroke-linecap="butt"/>
<line x1="1086.8" y1="1164.5" x2="1100.6" y2="1164.5" stroke="#f20a0a" stroke-width="2.9" stroke-linecap="butt"/>
<line x1="1086.8" y1="1191.25" x2="1100.6" y2="1191.25" stroke="#f20a0a" stroke-width="2.9" stroke-linecap="butt"/>
<polygon points="795.5,1224.63 789.5,1235.67 801.5,1235.67" fill="#f20a0a"/>
<polygon points="923.3,1215.88 917.3,1226.92 929.3,1226.92" fill="#f20a0a"/>
<polygon points="1093.7,1172.13 1087.7,1183.17 1099.7,1183.17" fill="#f20a0a"/>
<polyline points="625.1,1226.25 795.5,1155.5 923.3,1103.25 1093.7,1009.25" fill="none" stroke="#111111" stroke-width="3.5" stroke-linejoin="round"/>
<line x1="795.5" y1="1139.5" x2="795.5" y2="1169.5" stroke="#111111" stroke-width="2.9" stroke-linecap="butt"/>
<line x1="788.75" y1="1139.5" x2="802.25" y2="1139.5" stroke="#111111" stroke-width="2.9" stroke-linecap="butt"/>
<line x1="788.75" y1="1169.5" x2="802.25" y2="1169.5" stroke="#111111" stroke-width="2.9" stroke-linecap="butt"/>
<line x1="923.3" y1="1078.25" x2="923.3" y2="1127" stroke="#111111" stroke-width="2.9" stroke-linecap="butt"/>
<line x1="916.55" y1="1078.25" x2="930.05" y2="1078.25" stroke="#111111" stroke-width="2.9" stroke-linecap="butt"/>
<line x1="916.55" y1="1127" x2="930.05" y2="1127" stroke="#111111" stroke-width="2.9" stroke-linecap="butt"/>
<line x1="1093.7" y1="954.5" x2="1093.7" y2="1063.75" stroke="#111111" stroke-width="2.9" stroke-linecap="butt"/>
<line x1="1086.95" y1="954.5" x2="1100.45" y2="954.5" stroke="#111111" stroke-width="2.9" stroke-linecap="butt"/>
<line x1="1086.95" y1="1063.75" x2="1100.45" y2="1063.75" stroke="#111111" stroke-width="2.9" stroke-linecap="butt"/>
<rect x="619.1" y="1220.25" width="12" height="12" fill="#111111"/>
<rect x="789.5" y="1149.5" width="12" height="12" fill="#111111"/>
<rect x="917.3" y="1097.25" width="12" height="12" fill="#111111"/>
<rect x="1087.7" y="1003.25" width="12" height="12" fill="#111111"/>
<polyline points="1105.5,1178.75 1117.5,1178.75 1117.5,1218.75 1105.5,1218.75" fill="none" stroke="#111111" stroke-width="2.9"/>
<text x="1122.36" y="1213.42" font-size="27.5" letter-spacing="3.82" fill="#111111" stroke="#111111" stroke-width="0.8">****</text>
<line x1="1300.25" y1="873.75" x2="1300.25" y2="1252.5" stroke="#111111" stroke-width="2.5" stroke-linecap="butt"/>
<line x1="1292.75" y1="874.5" x2="1300.25" y2="874.5" stroke="#111111" stroke-width="2.25" stroke-linecap="butt"/>
<text x="1225.22" y="884.5" font-size="29" fill="#111111">1000</text>
<line x1="1292.75" y1="950.5" x2="1300.25" y2="950.5" stroke="#111111" stroke-width="2.25" stroke-linecap="butt"/>
<text x="1241.35" y="960.5" font-size="29" fill="#111111">800</text>
<line x1="1292.75" y1="1026.25" x2="1300.25" y2="1026.25" stroke="#111111" stroke-width="2.25" stroke-linecap="butt"/>
<text x="1241.35" y="1036.25" font-size="29" fill="#111111">600</text>
<line x1="1292.75" y1="1101.25" x2="1300.25" y2="1101.25" stroke="#111111" stroke-width="2.25" stroke-linecap="butt"/>
<text x="1241.35" y="1111.25" font-size="29" fill="#111111">400</text>
<line x1="1292.75" y1="1177.5" x2="1300.25" y2="1177.5" stroke="#111111" stroke-width="2.25" stroke-linecap="butt"/>
<text x="1241.35" y="1187.5" font-size="29" fill="#111111">200</text>
<line x1="1292.75" y1="1252.5" x2="1300.25" y2="1252.5" stroke="#111111" stroke-width="2.25" stroke-linecap="butt"/>
<text x="1273.6" y="1262.5" font-size="29" fill="#111111">0</text>
<line x1="1295.75" y1="912.5" x2="1300.25" y2="912.5" stroke="#111111" stroke-width="2.25" stroke-linecap="butt"/>
<line x1="1295.75" y1="988.4" x2="1300.25" y2="988.4" stroke="#111111" stroke-width="2.25" stroke-linecap="butt"/>
<line x1="1295.75" y1="1063.75" x2="1300.25" y2="1063.75" stroke="#111111" stroke-width="2.25" stroke-linecap="butt"/>
<line x1="1295.75" y1="1139.4" x2="1300.25" y2="1139.4" stroke="#111111" stroke-width="2.25" stroke-linecap="butt"/>
<line x1="1295.75" y1="1215" x2="1300.25" y2="1215" stroke="#111111" stroke-width="2.25" stroke-linecap="butt"/>
<line x1="1300.25" y1="1252.5" x2="1837.5" y2="1252.5" stroke="#111111" stroke-width="2.5" stroke-linecap="butt"/>
<line x1="1300.75" y1="1252.5" x2="1300.75" y2="1260.5" stroke="#111111" stroke-width="2.25" stroke-linecap="butt"/>
<text x="1284.6" y="1294" font-size="29" fill="#111111">21</text>
<line x1="1390" y1="1252.5" x2="1390" y2="1260.5" stroke="#111111" stroke-width="2.25" stroke-linecap="butt"/>
<text x="1373.87" y="1294" font-size="29" fill="#111111">22</text>
<line x1="1479.25" y1="1252.5" x2="1479.25" y2="1260.5" stroke="#111111" stroke-width="2.25" stroke-linecap="butt"/>
<text x="1463.03" y="1294" font-size="29" fill="#111111">23</text>
<line x1="1568.5" y1="1252.5" x2="1568.5" y2="1260.5" stroke="#111111" stroke-width="2.25" stroke-linecap="butt"/>
<text x="1552.07" y="1294" font-size="29" fill="#111111">24</text>
<line x1="1657.75" y1="1252.5" x2="1657.75" y2="1260.5" stroke="#111111" stroke-width="2.25" stroke-linecap="butt"/>
<text x="1641.5" y="1294" font-size="29" fill="#111111">25</text>
<line x1="1747" y1="1252.5" x2="1747" y2="1260.5" stroke="#111111" stroke-width="2.25" stroke-linecap="butt"/>
<text x="1730.78" y="1294" font-size="29" fill="#111111">26</text>
<line x1="1836.25" y1="1252.5" x2="1836.25" y2="1260.5" stroke="#111111" stroke-width="2.25" stroke-linecap="butt"/>
<text x="1820.12" y="1294" font-size="29" fill="#111111">27</text>
<text x="1293.12" y="1336" fill="#111111"><tspan font-size="29">Days after CT-26 </tspan><tspan font-size="29" font-style="italic">KRAS p.G12C</tspan><tspan font-size="29"> injection</tspan></text>
<text transform="translate(1220.7,1067.5) rotate(-90)" x="-134.93" y="0" fill="#111111"><tspan font-size="29">Tumor volume (mm</tspan><tspan font-size="17.98" dy="-11.02">3</tspan><tspan font-size="29" dy="11.02">)</tspan></text>
<line x1="1313.5" y1="854.5" x2="1339.7" y2="854.5" stroke="#0000f5" stroke-width="2.6" stroke-linecap="butt"/>
<circle cx="1326.6" cy="854.5" r="4.4" fill="#0000f5"/>
<text x="1348.89" y="862.4" font-size="25.3" fill="#111111" textLength="82.63" lengthAdjust="spacingAndGlyphs">Vehicle</text>
<line x1="1313.5" y1="882.5" x2="1339.7" y2="882.5" stroke="#f20a0a" stroke-width="2.6" stroke-linecap="butt"/>
<circle cx="1326.6" cy="882.5" r="4.4" fill="#f20a0a"/>
<text x="1348.95" y="890" font-size="25.3" fill="#111111" textLength="232.68" lengthAdjust="spacingAndGlyphs">AMG 510 100 mg/kg</text>
<line x1="1313.5" y1="911.75" x2="1339.7" y2="911.75" stroke="#780aa6" stroke-width="2.6" stroke-linecap="butt"/>
<circle cx="1326.6" cy="911.75" r="4.4" fill="#780aa6"/>
<text x="1347.93" y="918.75" font-size="25.3" fill="#111111" textLength="106.55" lengthAdjust="spacingAndGlyphs">anti-PD-1</text>
<line x1="1313.5" y1="941.75" x2="1339.7" y2="941.75" stroke="#0a820a" stroke-width="2.6" stroke-linecap="butt"/>
<circle cx="1326.6" cy="941.75" r="4.4" fill="#0a820a"/>
<text x="1348.95" y="949.5" font-size="25.3" fill="#111111" textLength="355.14" lengthAdjust="spacingAndGlyphs">AMG 510 100 mg/kg + anti-PD-1</text>
<line x1="1313.5" y1="971.25" x2="1339.7" y2="971.25" stroke="#111111" stroke-width="2.6" stroke-linecap="butt"/>
<circle cx="1326.6" cy="971.25" r="4.4" fill="#111111"/>
<text x="1346.9" y="978.75" font-size="25.3" fill="#111111" textLength="173.55" lengthAdjust="spacingAndGlyphs">MEKi 10 mg/kg</text>
<line x1="1390.5" y1="1101.2" x2="1747" y2="1158" stroke="#f20a0a" stroke-width="3.2" stroke-linecap="butt"/>
<line x1="1390.5" y1="1101.2" x2="1747" y2="1148.75" stroke="#111111" stroke-width="3.2" stroke-linecap="butt"/>
<line x1="1390.5" y1="1101.2" x2="1747" y2="1122" stroke="#0a820a" stroke-width="3.2" stroke-linecap="butt"/>
<line x1="1390.5" y1="1101.2" x2="1747" y2="944.25" stroke="#780aa6" stroke-width="6" stroke-linecap="butt"/>
<line x1="1390.5" y1="1101.2" x2="1747" y2="944.25" stroke="#0000f5" stroke-width="4" stroke-linecap="butt"/>
<line x1="1390.5" y1="1088" x2="1390.5" y2="1112.5" stroke="#780aa6" stroke-width="2.6" stroke-linecap="butt"/>
<line x1="1385" y1="1088" x2="1396" y2="1088" stroke="#780aa6" stroke-width="2.6" stroke-linecap="butt"/>
<line x1="1385" y1="1112.5" x2="1396" y2="1112.5" stroke="#780aa6" stroke-width="2.6" stroke-linecap="butt"/>
<line x1="1390.5" y1="1090.5" x2="1390.5" y2="1110.5" stroke="#0000f5" stroke-width="2.6" stroke-linecap="butt"/>
<line x1="1385" y1="1090.5" x2="1396" y2="1090.5" stroke="#0000f5" stroke-width="2.6" stroke-linecap="butt"/>
<line x1="1385" y1="1110.5" x2="1396" y2="1110.5" stroke="#0000f5" stroke-width="2.6" stroke-linecap="butt"/>
<circle cx="1390.5" cy="1101.2" r="5" fill="#0000f5"/>
<line x1="1747" y1="917" x2="1747" y2="968" stroke="#780aa6" stroke-width="2.6" stroke-linecap="butt"/>
<line x1="1741.5" y1="917" x2="1752.5" y2="917" stroke="#780aa6" stroke-width="2.6" stroke-linecap="butt"/>
<line x1="1741.5" y1="968" x2="1752.5" y2="968" stroke="#780aa6" stroke-width="2.6" stroke-linecap="butt"/>
<line x1="1747" y1="927.5" x2="1747" y2="963.75" stroke="#0000f5" stroke-width="2.6" stroke-linecap="butt"/>
<line x1="1741.5" y1="927.5" x2="1752.5" y2="927.5" stroke="#0000f5" stroke-width="2.6" stroke-linecap="butt"/>
<line x1="1741.5" y1="963.75" x2="1752.5" y2="963.75" stroke="#0000f5" stroke-width="2.6" stroke-linecap="butt"/>
<circle cx="1747" cy="944.25" r="5.5" fill="#0000f5"/>
<line x1="1747" y1="1135" x2="1747" y2="1162" stroke="#111111" stroke-width="2.6" stroke-linecap="butt"/>
<line x1="1741.5" y1="1135" x2="1752.5" y2="1135" stroke="#111111" stroke-width="2.6" stroke-linecap="butt"/>
<line x1="1741.5" y1="1162" x2="1752.5" y2="1162" stroke="#111111" stroke-width="2.6" stroke-linecap="butt"/>
<line x1="1747" y1="1148" x2="1747" y2="1167" stroke="#f20a0a" stroke-width="2.6" stroke-linecap="butt"/>
<line x1="1741.5" y1="1148" x2="1752.5" y2="1148" stroke="#f20a0a" stroke-width="2.6" stroke-linecap="butt"/>
<line x1="1741.5" y1="1167" x2="1752.5" y2="1167" stroke="#f20a0a" stroke-width="2.6" stroke-linecap="butt"/>
<line x1="1747" y1="1108.75" x2="1747" y2="1135.75" stroke="#0a820a" stroke-width="2.6" stroke-linecap="butt"/>
<line x1="1741.5" y1="1108.75" x2="1752.5" y2="1108.75" stroke="#0a820a" stroke-width="2.6" stroke-linecap="butt"/>
<line x1="1741.5" y1="1135.75" x2="1752.5" y2="1135.75" stroke="#0a820a" stroke-width="2.6" stroke-linecap="butt"/>
<circle cx="1747" cy="1148.75" r="5" fill="#111111"/>
<circle cx="1747" cy="1158" r="5" fill="#f20a0a"/>
<circle cx="1747" cy="1122" r="5" fill="#0a820a"/>
<line x1="112.6" y1="1428.2" x2="112.6" y2="1717.9" stroke="#111111" stroke-width="2.5" stroke-linecap="butt"/>
<line x1="104.1" y1="1428.2" x2="112.6" y2="1428.2" stroke="#111111" stroke-width="2.25" stroke-linecap="butt"/>
<text x="82.72" y="1434.2" font-size="29" fill="#111111">4</text>
<line x1="104.1" y1="1500.6" x2="112.6" y2="1500.6" stroke="#111111" stroke-width="2.25" stroke-linecap="butt"/>
<text x="83.33" y="1506.6" font-size="29" fill="#111111">2</text>
<line x1="104.1" y1="1572.7" x2="112.6" y2="1572.7" stroke="#111111" stroke-width="2.25" stroke-linecap="butt"/>
<text x="83" y="1578.7" font-size="29" fill="#111111">0</text>
<line x1="104.1" y1="1645.1" x2="112.6" y2="1645.1" stroke="#111111" stroke-width="2.25" stroke-linecap="butt"/>
<text x="73.67" y="1651.1" font-size="29" fill="#111111">-2</text>
<line x1="104.1" y1="1717.9" x2="112.6" y2="1717.9" stroke="#111111" stroke-width="2.25" stroke-linecap="butt"/>
<text x="73.06" y="1723.9" font-size="29" fill="#111111">-4</text>
<line x1="112.6" y1="1717.9" x2="588.5" y2="1717.9" stroke="#111111" stroke-width="2.5" stroke-linecap="butt"/>
<line x1="212" y1="1717.9" x2="212" y2="1725.9" stroke="#111111" stroke-width="2.25" stroke-linecap="butt"/>
<text x="165.02" y="1756.6" font-size="29" fill="#111111">Vehicle</text>
<line x1="361.4" y1="1717.9" x2="361.4" y2="1725.9" stroke="#111111" stroke-width="2.25" stroke-linecap="butt"/>
<text x="300.69" y="1756.6" font-size="29" fill="#111111">AMG 510</text>
<line x1="509.3" y1="1717.9" x2="509.3" y2="1725.9" stroke="#111111" stroke-width="2.25" stroke-linecap="butt"/>
<text x="474.44" y="1756.6" font-size="29" fill="#111111">MEKi</text>
<text transform="translate(45,1573.6) rotate(-90)" x="-73.05" y="0" fill="#111111"><tspan font-size="29">MHC score</tspan></text>
<line x1="164" y1="1403" x2="557.3" y2="1403" stroke="#111111" stroke-width="2.8" stroke-linecap="butt"/>
<text x="340.24" y="1404.62" font-size="27.5" letter-spacing="4" fill="#111111" stroke="#111111" stroke-width="0.8">***</text>
<line x1="164" y1="1428.2" x2="350.2" y2="1428.2" stroke="#111111" stroke-width="2.8" stroke-linecap="butt"/>
<text x="234.39" y="1429.82" font-size="27.5" letter-spacing="4" fill="#111111" stroke="#111111" stroke-width="0.8">****</text>
<line x1="369.7" y1="1428.2" x2="557.3" y2="1428.2" stroke="#111111" stroke-width="2.8" stroke-linecap="butt"/>
<text x="433.29" y="1429.82" font-size="27.5" letter-spacing="4" fill="#111111" stroke="#111111" stroke-width="0.8">****</text>
<line x1="157.2" y1="1667.2" x2="266.8" y2="1667.2" stroke="#0000f5" stroke-width="3" stroke-linecap="butt"/>
<line x1="212" y1="1644" x2="212" y2="1689.8" stroke="#0000f5" stroke-width="3" stroke-linecap="butt"/>
<line x1="184.1" y1="1644" x2="239.9" y2="1644" stroke="#0000f5" stroke-width="3" stroke-linecap="butt"/>
<line x1="184.1" y1="1689.8" x2="239.9" y2="1689.8" stroke="#0000f5" stroke-width="3" stroke-linecap="butt"/>
<circle cx="212" cy="1642.8" r="5.5" fill="#0000f5"/>
<circle cx="203.5" cy="1653" r="5.5" fill="#0000f5"/>
<circle cx="220.5" cy="1657" r="5.5" fill="#0000f5"/>
<circle cx="220.5" cy="1683.5" r="5.5" fill="#0000f5"/>
<circle cx="203.5" cy="1697.5" r="5.5" fill="#0000f5"/>
<line x1="306.4" y1="1475.8" x2="416.4" y2="1475.8" stroke="#f20a0a" stroke-width="3" stroke-linecap="butt"/>
<line x1="361.4" y1="1452.6" x2="361.4" y2="1499.5" stroke="#f20a0a" stroke-width="3" stroke-linecap="butt"/>
<line x1="333.3" y1="1452.6" x2="389.5" y2="1452.6" stroke="#f20a0a" stroke-width="3" stroke-linecap="butt"/>
<line x1="333.3" y1="1499.5" x2="389.5" y2="1499.5" stroke="#f20a0a" stroke-width="3" stroke-linecap="butt"/>
<circle cx="361.4" cy="1443.2" r="5.5" fill="#f20a0a"/>
<circle cx="345" cy="1477.3" r="5.5" fill="#f20a0a"/>
<circle cx="361.4" cy="1478.5" r="5.5" fill="#f20a0a"/>
<circle cx="378" cy="1471.3" r="5.5" fill="#f20a0a"/>
<circle cx="361.4" cy="1508.4" r="5.5" fill="#f20a0a"/>
<line x1="454.7" y1="1576.4" x2="563.9" y2="1576.4" stroke="#111111" stroke-width="3" stroke-linecap="butt"/>
<line x1="509.3" y1="1548.3" x2="509.3" y2="1605.7" stroke="#111111" stroke-width="3" stroke-linecap="butt"/>
<line x1="481.4" y1="1548.3" x2="537.2" y2="1548.3" stroke="#111111" stroke-width="3" stroke-linecap="butt"/>
<line x1="481.4" y1="1605.7" x2="537.2" y2="1605.7" stroke="#111111" stroke-width="3" stroke-linecap="butt"/>
<circle cx="493" cy="1555" r="5.5" fill="#111111"/>
<circle cx="526" cy="1556" r="5.5" fill="#111111"/>
<circle cx="509.3" cy="1564.8" r="5.5" fill="#111111"/>
<circle cx="509.3" cy="1586.4" r="5.5" fill="#111111"/>
<circle cx="509.3" cy="1623.7" r="5.5" fill="#111111"/>
<line x1="719.3" y1="1436.4" x2="719.3" y2="1717.9" stroke="#111111" stroke-width="2.5" stroke-linecap="butt"/>
<line x1="710.8" y1="1436.4" x2="719.3" y2="1436.4" stroke="#111111" stroke-width="2.25" stroke-linecap="butt"/>
<text x="687.35" y="1442.4" font-size="29" fill="#111111">3</text>
<line x1="710.8" y1="1483.3" x2="719.3" y2="1483.3" stroke="#111111" stroke-width="2.25" stroke-linecap="butt"/>
<text x="687.53" y="1489.3" font-size="29" fill="#111111">2</text>
<line x1="710.8" y1="1530.3" x2="719.3" y2="1530.3" stroke="#111111" stroke-width="2.25" stroke-linecap="butt"/>
<text x="687.49" y="1536.3" font-size="29" fill="#111111">1</text>
<line x1="710.8" y1="1577.2" x2="719.3" y2="1577.2" stroke="#111111" stroke-width="2.25" stroke-linecap="butt"/>
<text x="687.2" y="1583.2" font-size="29" fill="#111111">0</text>
<line x1="710.8" y1="1624.1" x2="719.3" y2="1624.1" stroke="#111111" stroke-width="2.25" stroke-linecap="butt"/>
<text x="677.83" y="1630.1" font-size="29" fill="#111111">-1</text>
<line x1="710.8" y1="1671" x2="719.3" y2="1671" stroke="#111111" stroke-width="2.25" stroke-linecap="butt"/>
<text x="677.87" y="1677" font-size="29" fill="#111111">-2</text>
<line x1="710.8" y1="1717.9" x2="719.3" y2="1717.9" stroke="#111111" stroke-width="2.25" stroke-linecap="butt"/>
<text x="677.69" y="1723.9" font-size="29" fill="#111111">-3</text>
<line x1="719.3" y1="1717.9" x2="1212.5" y2="1717.9" stroke="#111111" stroke-width="2.5" stroke-linecap="butt"/>
<line x1="816.9" y1="1717.9" x2="816.9" y2="1725.9" stroke="#111111" stroke-width="2.25" stroke-linecap="butt"/>
<text x="769.92" y="1758.4" font-size="29" fill="#111111">Vehicle</text>
<line x1="964" y1="1717.9" x2="964" y2="1725.9" stroke="#111111" stroke-width="2.25" stroke-linecap="butt"/>
<text x="903.29" y="1758.4" font-size="29" fill="#111111">AMG 510</text>
<line x1="1111.5" y1="1717.9" x2="1111.5" y2="1725.9" stroke="#111111" stroke-width="2.25" stroke-linecap="butt"/>
<text x="1076.64" y="1758.4" font-size="29" fill="#111111">MEKi</text>
<text transform="translate(657,1574.5) rotate(-90)" x="-66.56" y="0" fill="#111111"><tspan font-size="29">TLR score</tspan></text>
<line x1="772.6" y1="1403" x2="1164.8" y2="1403" stroke="#111111" stroke-width="2.8" stroke-linecap="butt"/>
<text x="940.59" y="1404.62" font-size="27.5" letter-spacing="4" fill="#111111" stroke="#111111" stroke-width="0.8">****</text>
<line x1="772.6" y1="1428.2" x2="958.4" y2="1428.2" stroke="#111111" stroke-width="2.8" stroke-linecap="butt"/>
<text x="834.69" y="1429.82" font-size="27.5" letter-spacing="4" fill="#111111" stroke="#111111" stroke-width="0.8">****</text>
<line x1="977.2" y1="1428.2" x2="1164.8" y2="1428.2" stroke="#111111" stroke-width="2.8" stroke-linecap="butt"/>
<text x="1044.09" y="1429.82" font-size="27.5" letter-spacing="4" fill="#111111" stroke="#111111" stroke-width="0.8">****</text>
<line x1="766.6" y1="1667.6" x2="867.2" y2="1667.6" stroke="#0000f5" stroke-width="3" stroke-linecap="butt"/>
<line x1="816.9" y1="1648.5" x2="816.9" y2="1686.4" stroke="#0000f5" stroke-width="3" stroke-linecap="butt"/>
<line x1="791" y1="1648.5" x2="842.8" y2="1648.5" stroke="#0000f5" stroke-width="3" stroke-linecap="butt"/>
<line x1="791" y1="1686.4" x2="842.8" y2="1686.4" stroke="#0000f5" stroke-width="3" stroke-linecap="butt"/>
<circle cx="816.9" cy="1641.4" r="5.5" fill="#0000f5"/>
<circle cx="809.5" cy="1656.8" r="5.5" fill="#0000f5"/>
<circle cx="824.4" cy="1668.6" r="5.5" fill="#0000f5"/>
<circle cx="824.4" cy="1683.1" r="5.5" fill="#0000f5"/>
<circle cx="809.5" cy="1689.1" r="5.5" fill="#0000f5"/>
<line x1="913.7" y1="1491.2" x2="1014.3" y2="1491.2" stroke="#f20a0a" stroke-width="3" stroke-linecap="butt"/>
<line x1="964" y1="1471.3" x2="964" y2="1511.9" stroke="#f20a0a" stroke-width="3" stroke-linecap="butt"/>
<line x1="938.1" y1="1471.3" x2="989.9" y2="1471.3" stroke="#f20a0a" stroke-width="3" stroke-linecap="butt"/>
<line x1="938.1" y1="1511.9" x2="989.9" y2="1511.9" stroke="#f20a0a" stroke-width="3" stroke-linecap="butt"/>
<circle cx="964" cy="1466.3" r="5.5" fill="#f20a0a"/>
<circle cx="949.6" cy="1490" r="5.5" fill="#f20a0a"/>
<circle cx="964" cy="1492.2" r="5.5" fill="#f20a0a"/>
<circle cx="979.6" cy="1486.8" r="5.5" fill="#f20a0a"/>
<circle cx="964" cy="1522.4" r="5.5" fill="#f20a0a"/>
<line x1="1061.4" y1="1573" x2="1161.6" y2="1573" stroke="#111111" stroke-width="3" stroke-linecap="butt"/>
<line x1="1111.5" y1="1555" x2="1111.5" y2="1591.4" stroke="#111111" stroke-width="3" stroke-linecap="butt"/>
<line x1="1085.8" y1="1555" x2="1137.2" y2="1555" stroke="#111111" stroke-width="3" stroke-linecap="butt"/>
<line x1="1085.8" y1="1591.4" x2="1137.2" y2="1591.4" stroke="#111111" stroke-width="3" stroke-linecap="butt"/>
<circle cx="1111.5" cy="1550.8" r="5.5" fill="#111111"/>
<circle cx="1104.3" cy="1564.6" r="5.5" fill="#111111"/>
<circle cx="1118.7" cy="1568.3" r="5.5" fill="#111111"/>
<circle cx="1118.7" cy="1584.4" r="5.5" fill="#111111"/>
<circle cx="1104.3" cy="1597.8" r="5.5" fill="#111111"/>
<line x1="1343.1" y1="1439.4" x2="1343.1" y2="1722" stroke="#111111" stroke-width="2.5" stroke-linecap="butt"/>
<line x1="1334.6" y1="1439.4" x2="1343.1" y2="1439.4" stroke="#111111" stroke-width="2.25" stroke-linecap="butt"/>
<text x="1271.39" y="1445.4" font-size="29" fill="#111111">10.0</text>
<line x1="1334.6" y1="1487.1" x2="1343.1" y2="1487.1" stroke="#111111" stroke-width="2.25" stroke-linecap="butt"/>
<text x="1287.6" y="1493.1" font-size="29" fill="#111111">9.5</text>
<line x1="1334.6" y1="1534" x2="1343.1" y2="1534" stroke="#111111" stroke-width="2.25" stroke-linecap="butt"/>
<text x="1287.52" y="1540" font-size="29" fill="#111111">9.0</text>
<line x1="1334.6" y1="1580.9" x2="1343.1" y2="1580.9" stroke="#111111" stroke-width="2.25" stroke-linecap="butt"/>
<text x="1287.6" y="1586.9" font-size="29" fill="#111111">8.5</text>
<line x1="1334.6" y1="1628.2" x2="1343.1" y2="1628.2" stroke="#111111" stroke-width="2.25" stroke-linecap="butt"/>
<text x="1287.52" y="1634.2" font-size="29" fill="#111111">8.0</text>
<line x1="1334.6" y1="1675.1" x2="1343.1" y2="1675.1" stroke="#111111" stroke-width="2.25" stroke-linecap="butt"/>
<text x="1287.6" y="1681.1" font-size="29" fill="#111111">7.5</text>
<line x1="1334.6" y1="1722" x2="1343.1" y2="1722" stroke="#111111" stroke-width="2.25" stroke-linecap="butt"/>
<text x="1287.52" y="1728" font-size="29" fill="#111111">7.0</text>
<line x1="1343.1" y1="1722" x2="1840.6" y2="1722" stroke="#111111" stroke-width="2.5" stroke-linecap="butt"/>
<line x1="1441.4" y1="1722" x2="1441.4" y2="1730" stroke="#111111" stroke-width="2.25" stroke-linecap="butt"/>
<text x="1394.42" y="1758.4" font-size="29" fill="#111111">Vehicle</text>
<line x1="1590.4" y1="1722" x2="1590.4" y2="1730" stroke="#111111" stroke-width="2.25" stroke-linecap="butt"/>
<text x="1529.69" y="1758.4" font-size="29" fill="#111111">AMG 510</text>
<line x1="1737.9" y1="1722" x2="1737.9" y2="1730" stroke="#111111" stroke-width="2.25" stroke-linecap="butt"/>
<text x="1703.04" y="1758.4" font-size="29" fill="#111111">MEKi</text>
<text transform="translate(1264.3,1575.5) rotate(-90)" x="-124.99" y="0" fill="#111111"><tspan font-size="29">Cytotoxic cell score</tspan></text>
<line x1="1389.6" y1="1403" x2="1782.2" y2="1403" stroke="#111111" stroke-width="2.8" stroke-linecap="butt"/>
<text x="1559.09" y="1404.62" font-size="27.5" letter-spacing="4" fill="#111111" stroke="#111111" stroke-width="0.8">****</text>
<line x1="1389.6" y1="1428.2" x2="1575.8" y2="1428.2" stroke="#111111" stroke-width="2.8" stroke-linecap="butt"/>
<text x="1459.99" y="1429.82" font-size="27.5" letter-spacing="4" fill="#111111" stroke="#111111" stroke-width="0.8">****</text>
<line x1="1595.3" y1="1428.2" x2="1782.2" y2="1428.2" stroke="#111111" stroke-width="2.8" stroke-linecap="butt"/>
<text x="1661.39" y="1429.82" font-size="27.5" letter-spacing="4" fill="#111111" stroke="#111111" stroke-width="0.8">****</text>
<line x1="1390.4" y1="1630.8" x2="1492.4" y2="1630.8" stroke="#0000f5" stroke-width="3" stroke-linecap="butt"/>
<line x1="1441.4" y1="1617.7" x2="1441.4" y2="1644.7" stroke="#0000f5" stroke-width="3" stroke-linecap="butt"/>
<line x1="1415.1" y1="1617.7" x2="1467.7" y2="1617.7" stroke="#0000f5" stroke-width="3" stroke-linecap="butt"/>
<line x1="1415.1" y1="1644.7" x2="1467.7" y2="1644.7" stroke="#0000f5" stroke-width="3" stroke-linecap="butt"/>
<circle cx="1441.4" cy="1609.4" r="5.5" fill="#0000f5"/>
<circle cx="1441.4" cy="1627.5" r="5.5" fill="#0000f5"/>
<circle cx="1426.7" cy="1635.5" r="5.5" fill="#0000f5"/>
<circle cx="1456.5" cy="1638.7" r="5.5" fill="#0000f5"/>
<circle cx="1441.4" cy="1644.3" r="5.5" fill="#0000f5"/>
<line x1="1539.7" y1="1508.9" x2="1641.1" y2="1508.9" stroke="#f20a0a" stroke-width="3" stroke-linecap="butt"/>
<line x1="1590.4" y1="1500.6" x2="1590.4" y2="1516.4" stroke="#f20a0a" stroke-width="3" stroke-linecap="butt"/>
<line x1="1564.6" y1="1500.6" x2="1616.2" y2="1500.6" stroke="#f20a0a" stroke-width="3" stroke-linecap="butt"/>
<line x1="1564.6" y1="1516.4" x2="1616.2" y2="1516.4" stroke="#f20a0a" stroke-width="3" stroke-linecap="butt"/>
<circle cx="1582.6" cy="1502.6" r="5.5" fill="#f20a0a"/>
<circle cx="1597.9" cy="1503.3" r="5.5" fill="#f20a0a"/>
<circle cx="1575.2" cy="1506.3" r="5.5" fill="#f20a0a"/>
<circle cx="1604.6" cy="1512.4" r="5.5" fill="#f20a0a"/>
<circle cx="1590.4" cy="1520.3" r="5.5" fill="#f20a0a"/>
<line x1="1686.7" y1="1576.8" x2="1789.1" y2="1576.8" stroke="#111111" stroke-width="3" stroke-linecap="butt"/>
<line x1="1737.9" y1="1560.7" x2="1737.9" y2="1594.4" stroke="#111111" stroke-width="3" stroke-linecap="butt"/>
<line x1="1712.2" y1="1560.7" x2="1763.6" y2="1560.7" stroke="#111111" stroke-width="3" stroke-linecap="butt"/>
<line x1="1712.2" y1="1594.4" x2="1763.6" y2="1594.4" stroke="#111111" stroke-width="3" stroke-linecap="butt"/>
<circle cx="1730.6" cy="1560" r="5.5" fill="#111111"/>
<circle cx="1746.7" cy="1560" r="5.5" fill="#111111"/>
<circle cx="1738.4" cy="1575.5" r="5.5" fill="#111111"/>
<circle cx="1730.6" cy="1594.6" r="5.5" fill="#111111"/>
<circle cx="1746.7" cy="1594.6" r="5.5" fill="#111111"/>
<line x1="112.6" y1="1816.9" x2="112.6" y2="2097.6" stroke="#111111" stroke-width="2.5" stroke-linecap="butt"/>
<line x1="104.1" y1="1816.9" x2="112.6" y2="1816.9" stroke="#111111" stroke-width="2.25" stroke-linecap="butt"/>
<text x="84.05" y="1822.9" font-size="29" fill="#111111">9</text>
<line x1="104.1" y1="1887.5" x2="112.6" y2="1887.5" stroke="#111111" stroke-width="2.25" stroke-linecap="butt"/>
<text x="83.93" y="1893.5" font-size="29" fill="#111111">8</text>
<line x1="104.1" y1="1957.7" x2="112.6" y2="1957.7" stroke="#111111" stroke-width="2.25" stroke-linecap="butt"/>
<text x="84.13" y="1963.7" font-size="29" fill="#111111">7</text>
<line x1="104.1" y1="2027.8" x2="112.6" y2="2027.8" stroke="#111111" stroke-width="2.25" stroke-linecap="butt"/>
<text x="83.95" y="2033.8" font-size="29" fill="#111111">6</text>
<line x1="104.1" y1="2097.6" x2="112.6" y2="2097.6" stroke="#111111" stroke-width="2.25" stroke-linecap="butt"/>
<text x="83.89" y="2103.6" font-size="29" fill="#111111">5</text>
<line x1="112.6" y1="2097.6" x2="605" y2="2097.6" stroke="#111111" stroke-width="2.5" stroke-linecap="butt"/>
<line x1="210.9" y1="2097.6" x2="210.9" y2="2105.6" stroke="#111111" stroke-width="2.25" stroke-linecap="butt"/>
<text x="163.92" y="2134" font-size="29" fill="#111111">Vehicle</text>
<line x1="357.7" y1="2097.6" x2="357.7" y2="2105.6" stroke="#111111" stroke-width="2.25" stroke-linecap="butt"/>
<text x="296.99" y="2134" font-size="29" fill="#111111">AMG 510</text>
<line x1="504.8" y1="2097.6" x2="504.8" y2="2105.6" stroke="#111111" stroke-width="2.25" stroke-linecap="butt"/>
<text x="469.94" y="2134" font-size="29" fill="#111111">MEKi</text>
<text transform="translate(50.7,1952.8) rotate(-90)" x="-85.96" y="0" fill="#111111"><tspan font-size="29">NK cell score</tspan></text>
<line x1="164" y1="1803" x2="557.3" y2="1803" stroke="#111111" stroke-width="2.8" stroke-linecap="butt"/>
<text x="353.04" y="1804.62" font-size="27.5" letter-spacing="4" fill="#111111" stroke="#111111" stroke-width="0.8">*</text>
<line x1="164" y1="1828.2" x2="350.2" y2="1828.2" stroke="#111111" stroke-width="2.8" stroke-linecap="butt"/>
<text x="217.49" y="1829.82" font-size="27.5" letter-spacing="4" fill="#111111" stroke="#111111" stroke-width="0.8">****</text>
<line x1="369.7" y1="1828.2" x2="557.3" y2="1828.2" stroke="#111111" stroke-width="2.8" stroke-linecap="butt"/>
<text x="443.94" y="1829.82" font-size="27.5" letter-spacing="4" fill="#111111" stroke="#111111" stroke-width="0.8">***</text>
<line x1="160.6" y1="1977.5" x2="261.2" y2="1977.5" stroke="#0000f5" stroke-width="3" stroke-linecap="butt"/>
<line x1="210.9" y1="1946.4" x2="210.9" y2="2009.1" stroke="#0000f5" stroke-width="3" stroke-linecap="butt"/>
<line x1="185.2" y1="1946.4" x2="236.6" y2="1946.4" stroke="#0000f5" stroke-width="3" stroke-linecap="butt"/>
<line x1="185.2" y1="2009.1" x2="236.6" y2="2009.1" stroke="#0000f5" stroke-width="3" stroke-linecap="butt"/>
<circle cx="195.7" cy="1955.6" r="5.5" fill="#0000f5"/>
<circle cx="225.2" cy="1955.6" r="5.5" fill="#0000f5"/>
<circle cx="210.9" cy="1959" r="5.5" fill="#0000f5"/>
<circle cx="210.9" cy="1992.7" r="5.5" fill="#0000f5"/>
<circle cx="210.9" cy="2027.5" r="5.5" fill="#0000f5"/>
<line x1="307.2" y1="1863.8" x2="408.2" y2="1863.8" stroke="#f20a0a" stroke-width="3" stroke-linecap="butt"/>
<line x1="357.7" y1="1848.8" x2="357.7" y2="1879.6" stroke="#f20a0a" stroke-width="3" stroke-linecap="butt"/>
<line x1="332.35" y1="1848.8" x2="383.05" y2="1848.8" stroke="#f20a0a" stroke-width="3" stroke-linecap="butt"/>
<line x1="332.35" y1="1879.6" x2="383.05" y2="1879.6" stroke="#f20a0a" stroke-width="3" stroke-linecap="butt"/>
<circle cx="350.2" cy="1849.5" r="5.5" fill="#f20a0a"/>
<circle cx="365.2" cy="1849.5" r="5.5" fill="#f20a0a"/>
<circle cx="357.7" cy="1865" r="5.5" fill="#f20a0a"/>
<circle cx="365.2" cy="1872.2" r="5.5" fill="#f20a0a"/>
<circle cx="350.2" cy="1884.2" r="5.5" fill="#f20a0a"/>
<line x1="454.9" y1="1936.3" x2="554.7" y2="1936.3" stroke="#111111" stroke-width="3" stroke-linecap="butt"/>
<line x1="504.8" y1="1917.5" x2="504.8" y2="1955" stroke="#111111" stroke-width="3" stroke-linecap="butt"/>
<line x1="479.3" y1="1917.5" x2="530.3" y2="1917.5" stroke="#111111" stroke-width="3" stroke-linecap="butt"/>
<line x1="479.3" y1="1955" x2="530.3" y2="1955" stroke="#111111" stroke-width="3" stroke-linecap="butt"/>
<circle cx="504.8" cy="1907.4" r="5.5" fill="#111111"/>
<circle cx="497.3" cy="1934.4" r="5.5" fill="#111111"/>
<circle cx="512.3" cy="1934.4" r="5.5" fill="#111111"/>
<circle cx="497.3" cy="1953.3" r="5.5" fill="#111111"/>
<circle cx="512.3" cy="1952.5" r="5.5" fill="#111111"/>
<line x1="719.3" y1="1812" x2="719.3" y2="2096.5" stroke="#111111" stroke-width="2.5" stroke-linecap="butt"/>
<line x1="710.8" y1="1812" x2="719.3" y2="1812" stroke="#111111" stroke-width="2.25" stroke-linecap="butt"/>
<text x="661.62" y="1818" font-size="29" fill="#111111">7.0</text>
<line x1="710.8" y1="1868.7" x2="719.3" y2="1868.7" stroke="#111111" stroke-width="2.25" stroke-linecap="butt"/>
<text x="661.7" y="1874.7" font-size="29" fill="#111111">6.5</text>
<line x1="710.8" y1="1925.8" x2="719.3" y2="1925.8" stroke="#111111" stroke-width="2.25" stroke-linecap="butt"/>
<text x="661.62" y="1931.8" font-size="29" fill="#111111">6.0</text>
<line x1="710.8" y1="1982.8" x2="719.3" y2="1982.8" stroke="#111111" stroke-width="2.25" stroke-linecap="butt"/>
<text x="661.7" y="1988.8" font-size="29" fill="#111111">5.5</text>
<line x1="710.8" y1="2039.5" x2="719.3" y2="2039.5" stroke="#111111" stroke-width="2.25" stroke-linecap="butt"/>
<text x="661.62" y="2045.5" font-size="29" fill="#111111">5.0</text>
<line x1="710.8" y1="2096.5" x2="719.3" y2="2096.5" stroke="#111111" stroke-width="2.25" stroke-linecap="butt"/>
<text x="661.7" y="2102.5" font-size="29" fill="#111111">4.5</text>
<line x1="719.3" y1="2096.5" x2="1217.4" y2="2096.5" stroke="#111111" stroke-width="2.5" stroke-linecap="butt"/>
<line x1="817.7" y1="2096.5" x2="817.7" y2="2104.5" stroke="#111111" stroke-width="2.25" stroke-linecap="butt"/>
<text x="770.72" y="2134" font-size="29" fill="#111111">Vehicle</text>
<line x1="966.7" y1="2096.5" x2="966.7" y2="2104.5" stroke="#111111" stroke-width="2.25" stroke-linecap="butt"/>
<text x="905.99" y="2134" font-size="29" fill="#111111">AMG 510</text>
<line x1="1116" y1="2096.5" x2="1116" y2="2104.5" stroke="#111111" stroke-width="2.25" stroke-linecap="butt"/>
<text x="1081.14" y="2134" font-size="29" fill="#111111">MEKi</text>
<text transform="translate(650.7,1953) rotate(-90)" x="-124.64" y="0" fill="#111111"><tspan font-size="29">NK CD56dim score</tspan></text>
<line x1="772.6" y1="1803" x2="1164.8" y2="1803" stroke="#111111" stroke-width="2.8" stroke-linecap="butt"/>
<text x="949.27" y="1798" font-size="26" fill="#111111">NS</text>
<line x1="772.6" y1="1828.2" x2="958.4" y2="1828.2" stroke="#111111" stroke-width="2.8" stroke-linecap="butt"/>
<text x="852.44" y="1829.82" font-size="27.5" letter-spacing="4" fill="#111111" stroke="#111111" stroke-width="0.8">*</text>
<line x1="977.2" y1="1828.2" x2="1164.8" y2="1828.2" stroke="#111111" stroke-width="2.8" stroke-linecap="butt"/>
<text x="1050.64" y="1829.82" font-size="27.5" letter-spacing="4" fill="#111111" stroke="#111111" stroke-width="0.8">***</text>
<line x1="766.7" y1="1974.5" x2="868.7" y2="1974.5" stroke="#0000f5" stroke-width="3" stroke-linecap="butt"/>
<line x1="817.7" y1="1937" x2="817.7" y2="2010.2" stroke="#0000f5" stroke-width="3" stroke-linecap="butt"/>
<line x1="791.8" y1="1937" x2="843.6" y2="1937" stroke="#0000f5" stroke-width="3" stroke-linecap="butt"/>
<line x1="791.8" y1="2010.2" x2="843.6" y2="2010.2" stroke="#0000f5" stroke-width="3" stroke-linecap="butt"/>
<circle cx="817.7" cy="1922" r="5.5" fill="#0000f5"/>
<circle cx="825.6" cy="1960.3" r="5.5" fill="#0000f5"/>
<circle cx="810.2" cy="1973.4" r="5.5" fill="#0000f5"/>
<circle cx="817.7" cy="1998.7" r="5.5" fill="#0000f5"/>
<circle cx="817.7" cy="2016.7" r="5.5" fill="#0000f5"/>
<line x1="916.2" y1="1892" x2="1017.2" y2="1892" stroke="#f20a0a" stroke-width="3" stroke-linecap="butt"/>
<line x1="966.7" y1="1866.1" x2="966.7" y2="1918.2" stroke="#f20a0a" stroke-width="3" stroke-linecap="butt"/>
<line x1="940.6" y1="1866.1" x2="992.8" y2="1866.1" stroke="#f20a0a" stroke-width="3" stroke-linecap="butt"/>
<line x1="940.6" y1="1918.2" x2="992.8" y2="1918.2" stroke="#f20a0a" stroke-width="3" stroke-linecap="butt"/>
<circle cx="974.5" cy="1863.8" r="5.5" fill="#f20a0a"/>
<circle cx="959.7" cy="1869.6" r="5.5" fill="#f20a0a"/>
<circle cx="966.7" cy="1890" r="5.5" fill="#f20a0a"/>
<circle cx="974.5" cy="1914.5" r="5.5" fill="#f20a0a"/>
<circle cx="959.7" cy="1922.4" r="5.5" fill="#f20a0a"/>
<line x1="1065.4" y1="1986.6" x2="1166.6" y2="1986.6" stroke="#111111" stroke-width="3" stroke-linecap="butt"/>
<line x1="1116" y1="1973" x2="1116" y2="1999.3" stroke="#111111" stroke-width="3" stroke-linecap="butt"/>
<line x1="1090.1" y1="1973" x2="1141.9" y2="1973" stroke="#111111" stroke-width="3" stroke-linecap="butt"/>
<line x1="1090.1" y1="1999.3" x2="1141.9" y2="1999.3" stroke="#111111" stroke-width="3" stroke-linecap="butt"/>
<circle cx="1131" cy="1970.6" r="5.5" fill="#111111"/>
<circle cx="1101.1" cy="1975.6" r="5.5" fill="#111111"/>
<circle cx="1116" cy="1985.4" r="5.5" fill="#111111"/>
<circle cx="1108.4" cy="2000.4" r="5.5" fill="#111111"/>
<circle cx="1123.8" cy="2000" r="5.5" fill="#111111"/>
<line x1="1343.1" y1="1815" x2="1343.1" y2="2097.6" stroke="#111111" stroke-width="2.5" stroke-linecap="butt"/>
<line x1="1334.6" y1="1815" x2="1343.1" y2="1815" stroke="#111111" stroke-width="2.25" stroke-linecap="butt"/>
<text x="1270.99" y="1821" font-size="29" fill="#111111">11.0</text>
<line x1="1334.6" y1="1872.1" x2="1343.1" y2="1872.1" stroke="#111111" stroke-width="2.25" stroke-linecap="butt"/>
<text x="1271.08" y="1878.1" font-size="29" fill="#111111">10.5</text>
<line x1="1334.6" y1="1928.4" x2="1343.1" y2="1928.4" stroke="#111111" stroke-width="2.25" stroke-linecap="butt"/>
<text x="1270.99" y="1934.4" font-size="29" fill="#111111">10.0</text>
<line x1="1334.6" y1="1985" x2="1343.1" y2="1985" stroke="#111111" stroke-width="2.25" stroke-linecap="butt"/>
<text x="1287.2" y="1991" font-size="29" fill="#111111">9.5</text>
<line x1="1334.6" y1="2041.3" x2="1343.1" y2="2041.3" stroke="#111111" stroke-width="2.25" stroke-linecap="butt"/>
<text x="1287.12" y="2047.3" font-size="29" fill="#111111">9.0</text>
<line x1="1334.6" y1="2097.6" x2="1343.1" y2="2097.6" stroke="#111111" stroke-width="2.25" stroke-linecap="butt"/>
<text x="1287.2" y="2103.6" font-size="29" fill="#111111">8.5</text>
<line x1="1343.1" y1="2097.6" x2="1840.6" y2="2097.6" stroke="#111111" stroke-width="2.5" stroke-linecap="butt"/>
<line x1="1442.2" y1="2097.6" x2="1442.2" y2="2105.6" stroke="#111111" stroke-width="2.25" stroke-linecap="butt"/>
<text x="1395.22" y="2134" font-size="29" fill="#111111">Vehicle</text>
<line x1="1590.4" y1="2097.6" x2="1590.4" y2="2105.6" stroke="#111111" stroke-width="2.25" stroke-linecap="butt"/>
<text x="1529.69" y="2134" font-size="29" fill="#111111">AMG 510</text>
<line x1="1738.7" y1="2097.6" x2="1738.7" y2="2105.6" stroke="#111111" stroke-width="2.25" stroke-linecap="butt"/>
<text x="1703.84" y="2134" font-size="29" fill="#111111">MEKi</text>
<text transform="translate(1264.3,1953.6) rotate(-90)" x="-76.65" y="0" fill="#111111"><tspan font-size="29">CD45 score</tspan></text>
<line x1="1389.6" y1="1803" x2="1782.2" y2="1803" stroke="#111111" stroke-width="2.8" stroke-linecap="butt"/>
<text x="1567.37" y="1798" font-size="26" fill="#111111">NS</text>
<line x1="1389.6" y1="1828.2" x2="1575.8" y2="1828.2" stroke="#111111" stroke-width="2.8" stroke-linecap="butt"/>
<text x="1450.19" y="1829.82" font-size="27.5" letter-spacing="4" fill="#111111" stroke="#111111" stroke-width="0.8">****</text>
<line x1="1595.3" y1="1828.2" x2="1782.2" y2="1828.2" stroke="#111111" stroke-width="2.8" stroke-linecap="butt"/>
<text x="1668.74" y="1829.82" font-size="27.5" letter-spacing="4" fill="#111111" stroke="#111111" stroke-width="0.8">***</text>
<line x1="1391.5" y1="2018.5" x2="1492.9" y2="2018.5" stroke="#0000f5" stroke-width="3" stroke-linecap="butt"/>
<line x1="1442.2" y1="1996.3" x2="1442.2" y2="2041" stroke="#0000f5" stroke-width="3" stroke-linecap="butt"/>
<line x1="1415.9" y1="1996.3" x2="1468.5" y2="1996.3" stroke="#0000f5" stroke-width="3" stroke-linecap="butt"/>
<line x1="1415.9" y1="2041" x2="1468.5" y2="2041" stroke="#0000f5" stroke-width="3" stroke-linecap="butt"/>
<circle cx="1449.6" cy="1990.3" r="5.5" fill="#0000f5"/>
<circle cx="1434.3" cy="2003.4" r="5.5" fill="#0000f5"/>
<circle cx="1442.2" cy="2018.5" r="5.5" fill="#0000f5"/>
<circle cx="1434.3" cy="2040.3" r="5.5" fill="#0000f5"/>
<circle cx="1449.6" cy="2039.9" r="5.5" fill="#0000f5"/>
<line x1="1539.7" y1="1904" x2="1641.1" y2="1904" stroke="#f20a0a" stroke-width="3" stroke-linecap="butt"/>
<line x1="1590.4" y1="1884.8" x2="1590.4" y2="1923.1" stroke="#f20a0a" stroke-width="3" stroke-linecap="butt"/>
<line x1="1564.3" y1="1884.8" x2="1616.5" y2="1884.8" stroke="#f20a0a" stroke-width="3" stroke-linecap="butt"/>
<line x1="1564.3" y1="1923.1" x2="1616.5" y2="1923.1" stroke="#f20a0a" stroke-width="3" stroke-linecap="butt"/>
<circle cx="1590.4" cy="1882.6" r="5.5" fill="#f20a0a"/>
<circle cx="1582.6" cy="1889.7" r="5.5" fill="#f20a0a"/>
<circle cx="1598.2" cy="1899.2" r="5.5" fill="#f20a0a"/>
<circle cx="1598.2" cy="1921.2" r="5.5" fill="#f20a0a"/>
<circle cx="1582.6" cy="1927.2" r="5.5" fill="#f20a0a"/>
<line x1="1687.5" y1="1982" x2="1789.9" y2="1982" stroke="#111111" stroke-width="3" stroke-linecap="butt"/>
<line x1="1738.7" y1="1952.8" x2="1738.7" y2="2011.3" stroke="#111111" stroke-width="3" stroke-linecap="butt"/>
<line x1="1713" y1="1952.8" x2="1764.4" y2="1952.8" stroke="#111111" stroke-width="3" stroke-linecap="butt"/>
<line x1="1713" y1="2011.3" x2="1764.4" y2="2011.3" stroke="#111111" stroke-width="3" stroke-linecap="butt"/>
<circle cx="1746.2" cy="1945" r="5.5" fill="#111111"/>
<circle cx="1731.2" cy="1958.8" r="5.5" fill="#111111"/>
<circle cx="1731.2" cy="1994.3" r="5.5" fill="#111111"/>
<circle cx="1746.2" cy="1997.6" r="5.5" fill="#111111"/>
<circle cx="1738.7" cy="2015.6" r="5.5" fill="#111111"/>
<line x1="115.6" y1="2198" x2="115.6" y2="2480.2" stroke="#111111" stroke-width="2.5" stroke-linecap="butt"/>
<line x1="107.1" y1="2198" x2="115.6" y2="2198" stroke="#111111" stroke-width="2.25" stroke-linecap="butt"/>
<text x="67.38" y="2204" font-size="29" fill="#111111">10</text>
<line x1="107.1" y1="2268.5" x2="115.6" y2="2268.5" stroke="#111111" stroke-width="2.25" stroke-linecap="butt"/>
<text x="83.59" y="2274.5" font-size="29" fill="#111111">5</text>
<line x1="107.1" y1="2338.7" x2="115.6" y2="2338.7" stroke="#111111" stroke-width="2.25" stroke-linecap="butt"/>
<text x="83.5" y="2344.7" font-size="29" fill="#111111">0</text>
<line x1="107.1" y1="2410" x2="115.6" y2="2410" stroke="#111111" stroke-width="2.25" stroke-linecap="butt"/>
<text x="73.93" y="2416" font-size="29" fill="#111111">-5</text>
<line x1="107.1" y1="2480.2" x2="115.6" y2="2480.2" stroke="#111111" stroke-width="2.25" stroke-linecap="butt"/>
<text x="57.72" y="2486.2" font-size="29" fill="#111111">-10</text>
<line x1="115.6" y1="2480.2" x2="609.9" y2="2480.2" stroke="#111111" stroke-width="2.5" stroke-linecap="butt"/>
<line x1="213.9" y1="2480.2" x2="213.9" y2="2488.2" stroke="#111111" stroke-width="2.25" stroke-linecap="butt"/>
<text x="166.92" y="2518.8" font-size="29" fill="#111111">Vehicle</text>
<line x1="361.4" y1="2480.2" x2="361.4" y2="2488.2" stroke="#111111" stroke-width="2.25" stroke-linecap="butt"/>
<text x="300.69" y="2518.8" font-size="29" fill="#111111">AMG 510</text>
<line x1="509.3" y1="2480.2" x2="509.3" y2="2488.2" stroke="#111111" stroke-width="2.25" stroke-linecap="butt"/>
<text x="474.44" y="2518.8" font-size="29" fill="#111111">MEKi</text>
<text transform="translate(45,2336) rotate(-90)" x="-88.84" y="0" fill="#111111"><tspan font-size="29">T cell function</tspan></text>
<line x1="164" y1="2173.5" x2="557.3" y2="2173.5" stroke="#111111" stroke-width="2.8" stroke-linecap="butt"/>
<text x="335.09" y="2175.12" font-size="27.5" letter-spacing="4" fill="#111111" stroke="#111111" stroke-width="0.8">****</text>
<line x1="164" y1="2199.1" x2="350.2" y2="2199.1" stroke="#111111" stroke-width="2.8" stroke-linecap="butt"/>
<text x="227.39" y="2200.72" font-size="27.5" letter-spacing="4" fill="#111111" stroke="#111111" stroke-width="0.8">****</text>
<line x1="369.7" y1="2199.1" x2="557.3" y2="2199.1" stroke="#111111" stroke-width="2.8" stroke-linecap="butt"/>
<text x="450.79" y="2200.72" font-size="27.5" letter-spacing="4" fill="#111111" stroke="#111111" stroke-width="0.8">**</text>
<line x1="163.3" y1="2420.1" x2="264.5" y2="2420.1" stroke="#0000f5" stroke-width="3" stroke-linecap="butt"/>
<line x1="213.9" y1="2402.5" x2="213.9" y2="2437.4" stroke="#0000f5" stroke-width="3" stroke-linecap="butt"/>
<line x1="188" y1="2402.5" x2="239.8" y2="2402.5" stroke="#0000f5" stroke-width="3" stroke-linecap="butt"/>
<line x1="188" y1="2437.4" x2="239.8" y2="2437.4" stroke="#0000f5" stroke-width="3" stroke-linecap="butt"/>
<circle cx="213.9" cy="2397" r="5.5" fill="#0000f5"/>
<circle cx="206.4" cy="2410.8" r="5.5" fill="#0000f5"/>
<circle cx="221.8" cy="2419.4" r="5.5" fill="#0000f5"/>
<circle cx="206.4" cy="2436.6" r="5.5" fill="#0000f5"/>
<circle cx="221.8" cy="2436.6" r="5.5" fill="#0000f5"/>
<line x1="311.1" y1="2271.1" x2="411.7" y2="2271.1" stroke="#f20a0a" stroke-width="3" stroke-linecap="butt"/>
<line x1="361.4" y1="2253.5" x2="361.4" y2="2289.1" stroke="#f20a0a" stroke-width="3" stroke-linecap="butt"/>
<line x1="335.7" y1="2253.5" x2="387.1" y2="2253.5" stroke="#f20a0a" stroke-width="3" stroke-linecap="butt"/>
<line x1="335.7" y1="2289.1" x2="387.1" y2="2289.1" stroke="#f20a0a" stroke-width="3" stroke-linecap="butt"/>
<circle cx="361.4" cy="2249.5" r="5.5" fill="#f20a0a"/>
<circle cx="376.8" cy="2263.6" r="5.5" fill="#f20a0a"/>
<circle cx="346.4" cy="2272.2" r="5.5" fill="#f20a0a"/>
<circle cx="361.4" cy="2274.9" r="5.5" fill="#f20a0a"/>
<circle cx="361.4" cy="2298.2" r="5.5" fill="#f20a0a"/>
<line x1="458.6" y1="2326.3" x2="560" y2="2326.3" stroke="#111111" stroke-width="3" stroke-linecap="butt"/>
<line x1="509.3" y1="2301.1" x2="509.3" y2="2351.8" stroke="#111111" stroke-width="3" stroke-linecap="butt"/>
<line x1="483.6" y1="2301.1" x2="535" y2="2301.1" stroke="#111111" stroke-width="3" stroke-linecap="butt"/>
<line x1="483.6" y1="2351.8" x2="535" y2="2351.8" stroke="#111111" stroke-width="3" stroke-linecap="butt"/>
<circle cx="516.9" cy="2297.6" r="5.5" fill="#111111"/>
<circle cx="501.8" cy="2308.5" r="5.5" fill="#111111"/>
<circle cx="501.8" cy="2329.1" r="5.5" fill="#111111"/>
<circle cx="516.9" cy="2334.4" r="5.5" fill="#111111"/>
<circle cx="509.3" cy="2363.1" r="5.5" fill="#111111"/>
<line x1="720.8" y1="2196.1" x2="720.8" y2="2480.5" stroke="#111111" stroke-width="2.5" stroke-linecap="butt"/>
<line x1="712.3" y1="2196.1" x2="720.8" y2="2196.1" stroke="#111111" stroke-width="2.25" stroke-linecap="butt"/>
<text x="690.69" y="2202.1" font-size="29" fill="#111111">5</text>
<line x1="712.3" y1="2290.6" x2="720.8" y2="2290.6" stroke="#111111" stroke-width="2.25" stroke-linecap="butt"/>
<text x="690.6" y="2296.6" font-size="29" fill="#111111">0</text>
<line x1="712.3" y1="2385.6" x2="720.8" y2="2385.6" stroke="#111111" stroke-width="2.25" stroke-linecap="butt"/>
<text x="681.03" y="2391.6" font-size="29" fill="#111111">-5</text>
<line x1="712.3" y1="2480.5" x2="720.8" y2="2480.5" stroke="#111111" stroke-width="2.25" stroke-linecap="butt"/>
<text x="664.82" y="2486.5" font-size="29" fill="#111111">-10</text>
<line x1="720.8" y1="2480.5" x2="1215.5" y2="2480.5" stroke="#111111" stroke-width="2.5" stroke-linecap="butt"/>
<line x1="818.8" y1="2480.5" x2="818.8" y2="2488.5" stroke="#111111" stroke-width="2.25" stroke-linecap="butt"/>
<text x="771.82" y="2517" font-size="29" fill="#111111">Vehicle</text>
<line x1="967" y1="2480.5" x2="967" y2="2488.5" stroke="#111111" stroke-width="2.25" stroke-linecap="butt"/>
<text x="906.29" y="2517" font-size="29" fill="#111111">AMG 510</text>
<line x1="1116" y1="2480.5" x2="1116" y2="2488.5" stroke="#111111" stroke-width="2.25" stroke-linecap="butt"/>
<text x="1081.14" y="2517" font-size="29" fill="#111111">MEKi</text>
<text transform="translate(641.3,2338.6) rotate(-90)" x="-108.62" y="0" fill="#111111"><tspan font-size="29">Chemokines and</tspan></text>
<text transform="translate(669.2,2339) rotate(-90)" x="-100.25" y="0" fill="#111111"><tspan font-size="29">receptors score</tspan></text>
<line x1="772.6" y1="2178" x2="1164.8" y2="2178" stroke="#111111" stroke-width="2.8" stroke-linecap="butt"/>
<text x="938.19" y="2179.62" font-size="27.5" letter-spacing="4" fill="#111111" stroke="#111111" stroke-width="0.8">****</text>
<line x1="772.6" y1="2204.3" x2="957.7" y2="2204.3" stroke="#111111" stroke-width="2.8" stroke-linecap="butt"/>
<text x="836.59" y="2205.92" font-size="27.5" letter-spacing="4" fill="#111111" stroke="#111111" stroke-width="0.8">****</text>
<line x1="977.2" y1="2204.3" x2="1164.8" y2="2204.3" stroke="#111111" stroke-width="2.8" stroke-linecap="butt"/>
<text x="1070.54" y="2205.92" font-size="27.5" letter-spacing="4" fill="#111111" stroke="#111111" stroke-width="0.8">*</text>
<line x1="769.6" y1="2369.1" x2="868" y2="2369.1" stroke="#0000f5" stroke-width="3" stroke-linecap="butt"/>
<line x1="818.8" y1="2348.8" x2="818.8" y2="2389.7" stroke="#0000f5" stroke-width="3" stroke-linecap="butt"/>
<line x1="794.4" y1="2348.8" x2="843.2" y2="2348.8" stroke="#0000f5" stroke-width="3" stroke-linecap="butt"/>
<line x1="794.4" y1="2389.7" x2="843.2" y2="2389.7" stroke="#0000f5" stroke-width="3" stroke-linecap="butt"/>
<circle cx="818.8" cy="2346.1" r="5.5" fill="#0000f5"/>
<circle cx="811.3" cy="2360.5" r="5.5" fill="#0000f5"/>
<circle cx="826.3" cy="2359.7" r="5.5" fill="#0000f5"/>
<circle cx="818.8" cy="2380" r="5.5" fill="#0000f5"/>
<circle cx="818.8" cy="2399.2" r="5.5" fill="#0000f5"/>
<line x1="917.8" y1="2234.7" x2="1016.2" y2="2234.7" stroke="#f20a0a" stroke-width="3" stroke-linecap="butt"/>
<line x1="967" y1="2219.3" x2="967" y2="2250.5" stroke="#f20a0a" stroke-width="3" stroke-linecap="butt"/>
<line x1="942.6" y1="2219.3" x2="991.4" y2="2219.3" stroke="#f20a0a" stroke-width="3" stroke-linecap="butt"/>
<line x1="942.6" y1="2250.5" x2="991.4" y2="2250.5" stroke="#f20a0a" stroke-width="3" stroke-linecap="butt"/>
<circle cx="982.3" cy="2216.7" r="5.5" fill="#f20a0a"/>
<circle cx="952.4" cy="2227.9" r="5.5" fill="#f20a0a"/>
<circle cx="967.7" cy="2229.1" r="5.5" fill="#f20a0a"/>
<circle cx="959.6" cy="2252" r="5.5" fill="#f20a0a"/>
<circle cx="975" cy="2251.2" r="5.5" fill="#f20a0a"/>
<line x1="1066.6" y1="2269.2" x2="1165.4" y2="2269.2" stroke="#111111" stroke-width="3" stroke-linecap="butt"/>
<line x1="1116" y1="2249.4" x2="1116" y2="2289.1" stroke="#111111" stroke-width="3" stroke-linecap="butt"/>
<line x1="1091.2" y1="2249.4" x2="1140.8" y2="2249.4" stroke="#111111" stroke-width="3" stroke-linecap="butt"/>
<line x1="1091.2" y1="2289.1" x2="1140.8" y2="2289.1" stroke="#111111" stroke-width="3" stroke-linecap="butt"/>
<circle cx="1116" cy="2244.4" r="5.5" fill="#111111"/>
<circle cx="1130.8" cy="2262.6" r="5.5" fill="#111111"/>
<circle cx="1101.3" cy="2269.6" r="5.5" fill="#111111"/>
<circle cx="1116" cy="2270" r="5.5" fill="#111111"/>
<circle cx="1116" cy="2299.6" r="5.5" fill="#111111"/>
<line x1="1341.2" y1="2195.3" x2="1341.2" y2="2480.2" stroke="#111111" stroke-width="2.5" stroke-linecap="butt"/>
<line x1="1332.7" y1="2195.3" x2="1341.2" y2="2195.3" stroke="#111111" stroke-width="2.25" stroke-linecap="butt"/>
<text x="1279.45" y="2201.3" font-size="29" fill="#111111">400</text>
<line x1="1332.7" y1="2266.6" x2="1341.2" y2="2266.6" stroke="#111111" stroke-width="2.25" stroke-linecap="butt"/>
<text x="1279.45" y="2272.6" font-size="29" fill="#111111">300</text>
<line x1="1332.7" y1="2337.6" x2="1341.2" y2="2337.6" stroke="#111111" stroke-width="2.25" stroke-linecap="butt"/>
<text x="1279.45" y="2343.6" font-size="29" fill="#111111">200</text>
<line x1="1332.7" y1="2408.9" x2="1341.2" y2="2408.9" stroke="#111111" stroke-width="2.25" stroke-linecap="butt"/>
<text x="1279.45" y="2414.9" font-size="29" fill="#111111">100</text>
<line x1="1332.7" y1="2480.2" x2="1341.2" y2="2480.2" stroke="#111111" stroke-width="2.25" stroke-linecap="butt"/>
<text x="1311.7" y="2486.2" font-size="29" fill="#111111">0</text>
<line x1="1341.2" y1="2480.2" x2="1840.6" y2="2480.2" stroke="#111111" stroke-width="2.5" stroke-linecap="butt"/>
<line x1="1441.4" y1="2480.2" x2="1441.4" y2="2488.2" stroke="#111111" stroke-width="2.25" stroke-linecap="butt"/>
<text x="1394.42" y="2517" font-size="29" fill="#111111">Vehicle</text>
<line x1="1589.7" y1="2480.2" x2="1589.7" y2="2488.2" stroke="#111111" stroke-width="2.25" stroke-linecap="butt"/>
<text x="1528.99" y="2517" font-size="29" fill="#111111">AMG 510</text>
<line x1="1738.7" y1="2480.2" x2="1738.7" y2="2488.2" stroke="#111111" stroke-width="2.25" stroke-linecap="butt"/>
<text x="1703.84" y="2517" font-size="29" fill="#111111">MEKi</text>
<text transform="translate(1268,2337.8) rotate(-90)" x="-136.41" y="0" fill="#111111"><tspan font-size="29">CXCL11 RNA counts</tspan></text>
<line x1="1389.6" y1="2181" x2="1782.2" y2="2181" stroke="#111111" stroke-width="2.8" stroke-linecap="butt"/>
<text x="1567.37" y="2176" font-size="26" fill="#111111">NS</text>
<line x1="1389.6" y1="2208.1" x2="1575.8" y2="2208.1" stroke="#111111" stroke-width="2.8" stroke-linecap="butt"/>
<text x="1480.34" y="2209.72" font-size="27.5" letter-spacing="4" fill="#111111" stroke="#111111" stroke-width="0.8">*</text>
<line x1="1595.3" y1="2208.1" x2="1782.2" y2="2208.1" stroke="#111111" stroke-width="2.8" stroke-linecap="butt"/>
<text x="1670.27" y="2203.1" font-size="26" fill="#111111">NS</text>
<line x1="1392" y1="2356.3" x2="1490.8" y2="2356.3" stroke="#0000f5" stroke-width="3" stroke-linecap="butt"/>
<line x1="1441.4" y1="2336.8" x2="1441.4" y2="2376.2" stroke="#0000f5" stroke-width="3" stroke-linecap="butt"/>
<line x1="1416.8" y1="2336.8" x2="1466" y2="2336.8" stroke="#0000f5" stroke-width="3" stroke-linecap="butt"/>
<line x1="1416.8" y1="2376.2" x2="1466" y2="2376.2" stroke="#0000f5" stroke-width="3" stroke-linecap="butt"/>
<circle cx="1441.4" cy="2327.3" r="5.5" fill="#0000f5"/>
<circle cx="1433.2" cy="2350.1" r="5.5" fill="#0000f5"/>
<circle cx="1448.9" cy="2355" r="5.5" fill="#0000f5"/>
<circle cx="1433.2" cy="2375.5" r="5.5" fill="#0000f5"/>
<circle cx="1448.9" cy="2373.2" r="5.5" fill="#0000f5"/>
<line x1="1540" y1="2261" x2="1639.4" y2="2261" stroke="#f20a0a" stroke-width="3" stroke-linecap="butt"/>
<line x1="1589.7" y1="2242.2" x2="1589.7" y2="2279.8" stroke="#f20a0a" stroke-width="3" stroke-linecap="butt"/>
<line x1="1565.3" y1="2242.2" x2="1614.1" y2="2242.2" stroke="#f20a0a" stroke-width="3" stroke-linecap="butt"/>
<line x1="1565.3" y1="2279.8" x2="1614.1" y2="2279.8" stroke="#f20a0a" stroke-width="3" stroke-linecap="butt"/>
<circle cx="1582.1" cy="2237.1" r="5.5" fill="#f20a0a"/>
<circle cx="1597.3" cy="2246.1" r="5.5" fill="#f20a0a"/>
<circle cx="1574.9" cy="2268.4" r="5.5" fill="#f20a0a"/>
<circle cx="1589.7" cy="2277.5" r="5.5" fill="#f20a0a"/>
<circle cx="1604.6" cy="2276.3" r="5.5" fill="#f20a0a"/>
<line x1="1689.3" y1="2303" x2="1788.1" y2="2303" stroke="#111111" stroke-width="3" stroke-linecap="butt"/>
<line x1="1738.7" y1="2241.8" x2="1738.7" y2="2364.2" stroke="#111111" stroke-width="3" stroke-linecap="butt"/>
<line x1="1714.3" y1="2241.8" x2="1763.1" y2="2241.8" stroke="#111111" stroke-width="3" stroke-linecap="butt"/>
<line x1="1714.3" y1="2364.2" x2="1763.1" y2="2364.2" stroke="#111111" stroke-width="3" stroke-linecap="butt"/>
<circle cx="1738.7" cy="2222" r="5.5" fill="#111111"/>
<circle cx="1738.7" cy="2281.3" r="5.5" fill="#111111"/>
<circle cx="1731.1" cy="2305.3" r="5.5" fill="#111111"/>
<circle cx="1746.2" cy="2314.9" r="5.5" fill="#111111"/>
<circle cx="1738.7" cy="2391.6" r="5.5" fill="#111111"/>
</svg>
</body></html>
